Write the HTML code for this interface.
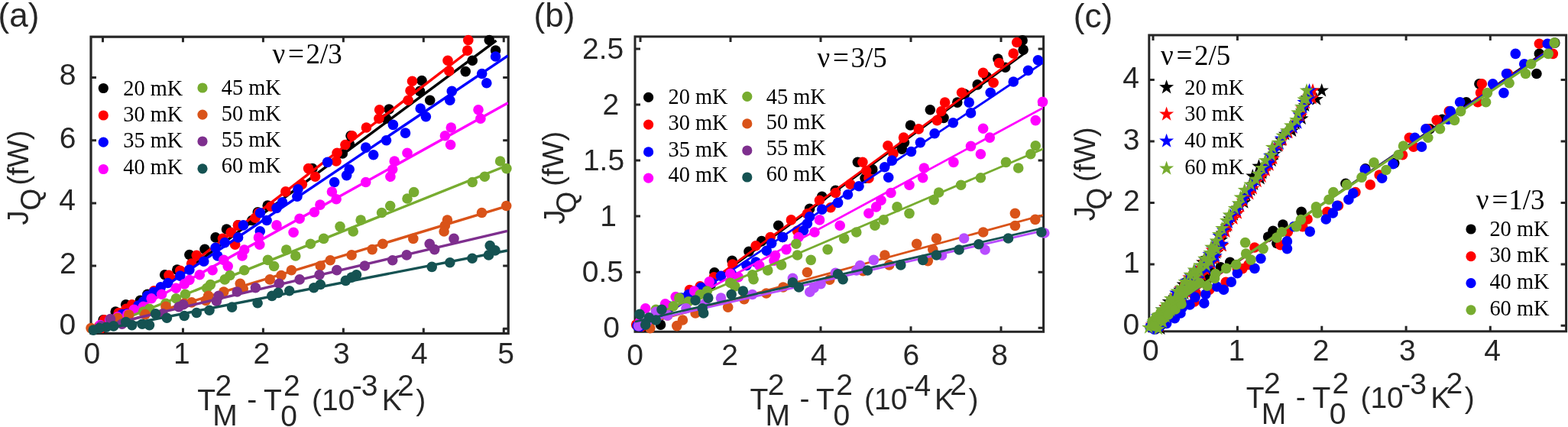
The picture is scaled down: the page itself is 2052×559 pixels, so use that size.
<!DOCTYPE html>
<html><head><meta charset="utf-8"><title>Figure</title>
<style>html,body{margin:0;padding:0;background:#fff;width:2052px;height:559px;overflow:hidden}svg{display:block}text{fill:#262626}text.lg{fill:#000}</style>
</head><body>
<svg width="2052" height="559" viewBox="0 0 2052 559"><defs>
<clipPath id="ca"><rect x="119" y="48" width="546" height="388"/></clipPath>
<clipPath id="cb"><rect x="831" y="48" width="534" height="386"/></clipPath>
<clipPath id="cc"><rect x="1504" y="46" width="545" height="388"/></clipPath>
</defs><rect width="2052" height="559" fill="#fff"/><rect x="119" y="48.2" width="546.2" height="388.3" fill="none" stroke="#262626" stroke-width="3.2"/>
<path d="M134.5,436.5v-7M134.5,48.2v7M239.45,436.5v-7M239.45,48.2v7M344.4,436.5v-7M344.4,48.2v7M449.35,436.5v-7M449.35,48.2v7M554.3,436.5v-7M554.3,48.2v7M659.25,436.5v-7M659.25,48.2v7M119,101.5h7M665.2,101.5h-7M119,183.7h7M665.2,183.7h-7M119,265.9h7M665.2,265.9h-7M119,348.1h7M665.2,348.1h-7M119,430.3h7M665.2,430.3h-7" stroke="#262626" stroke-width="3" fill="none"/>
<text x="109.4" y="476.0" style="font-family:'Liberation Sans',Arial,sans-serif;font-size:39px">0</text>
<text x="227.1" y="476.0" style="font-family:'Liberation Sans',Arial,sans-serif;font-size:39px">1</text>
<text x="331.6" y="476.0" style="font-family:'Liberation Sans',Arial,sans-serif;font-size:39px">2</text>
<text x="436.0" y="476.0" style="font-family:'Liberation Sans',Arial,sans-serif;font-size:39px">3</text>
<text x="537.9" y="476.0" style="font-family:'Liberation Sans',Arial,sans-serif;font-size:39px">4</text>
<text x="651.3" y="476.0" style="font-family:'Liberation Sans',Arial,sans-serif;font-size:39px">5</text>
<text x="77.7" y="110.5" style="font-family:'Liberation Sans',Arial,sans-serif;font-size:39px">8</text>
<text x="77.7" y="193.5" style="font-family:'Liberation Sans',Arial,sans-serif;font-size:39px">6</text>
<text x="77.2" y="275.2" style="font-family:'Liberation Sans',Arial,sans-serif;font-size:39px">4</text>
<text x="78.0" y="357.6" style="font-family:'Liberation Sans',Arial,sans-serif;font-size:39px">2</text>
<text x="77.5" y="438.0" style="font-family:'Liberation Sans',Arial,sans-serif;font-size:39px">0</text>
<rect x="831" y="47.9" width="534.5999999999999" height="386.40000000000003" fill="none" stroke="#262626" stroke-width="3"/>
<path d="M838,434.3v-7M838,47.9v7M956,434.3v-7M956,47.9v7M1074,434.3v-7M1074,47.9v7M1192,434.3v-7M1192,47.9v7M1310,434.3v-7M1310,47.9v7M831,63.9h7M1365.6,63.9h-7M831,137h7M1365.6,137h-7M831,210h7M1365.6,210h-7M831,283.1h7M1365.6,283.1h-7M831,356.2h7M1365.6,356.2h-7M831,429.3h7M1365.6,429.3h-7" stroke="#262626" stroke-width="3" fill="none"/>
<text x="820.2" y="478.0" style="font-family:'Liberation Sans',Arial,sans-serif;font-size:39px">0</text>
<text x="944.2" y="478.0" style="font-family:'Liberation Sans',Arial,sans-serif;font-size:39px">2</text>
<text x="1061.1" y="478.0" style="font-family:'Liberation Sans',Arial,sans-serif;font-size:39px">4</text>
<text x="1181.4" y="478.0" style="font-family:'Liberation Sans',Arial,sans-serif;font-size:39px">6</text>
<text x="1297.2" y="478.0" style="font-family:'Liberation Sans',Arial,sans-serif;font-size:39px">8</text>
<text x="762.0" y="77.2" style="font-family:'Liberation Sans',Arial,sans-serif;font-size:39px">2.5</text>
<text x="788.6" y="150.1" style="font-family:'Liberation Sans',Arial,sans-serif;font-size:39px">2</text>
<text x="762.9" y="223.4" style="font-family:'Liberation Sans',Arial,sans-serif;font-size:39px">1.5</text>
<text x="785.2" y="295.5" style="font-family:'Liberation Sans',Arial,sans-serif;font-size:39px">1</text>
<text x="761.8" y="369.4" style="font-family:'Liberation Sans',Arial,sans-serif;font-size:39px">0.5</text>
<text x="789.3" y="441.5" style="font-family:'Liberation Sans',Arial,sans-serif;font-size:39px">0</text>
<rect x="1503.8" y="46" width="545.8" height="387.8" fill="none" stroke="#262626" stroke-width="3"/>
<path d="M1509,433.8v-7M1509,46v7M1619.4,433.8v-7M1619.4,46v7M1729.8,433.8v-7M1729.8,46v7M1840.1,433.8v-7M1840.1,46v7M1950.3,433.8v-7M1950.3,46v7M1503.8,104.5h7M2049.6,104.5h-7M1503.8,185h7M2049.6,185h-7M1503.8,265.5h7M2049.6,265.5h-7M1503.8,346h7M2049.6,346h-7M1503.8,426.3h7M2049.6,426.3h-7" stroke="#262626" stroke-width="3" fill="none"/>
<text x="1495.0" y="472.2" style="font-family:'Liberation Sans',Arial,sans-serif;font-size:39px">0</text>
<text x="1607.6" y="472.2" style="font-family:'Liberation Sans',Arial,sans-serif;font-size:39px">1</text>
<text x="1717.7" y="472.2" style="font-family:'Liberation Sans',Arial,sans-serif;font-size:39px">2</text>
<text x="1830.9" y="472.2" style="font-family:'Liberation Sans',Arial,sans-serif;font-size:39px">3</text>
<text x="1942.3" y="472.2" style="font-family:'Liberation Sans',Arial,sans-serif;font-size:39px">4</text>
<text x="1469.3" y="115.3" style="font-family:'Liberation Sans',Arial,sans-serif;font-size:39px">4</text>
<text x="1469.8" y="195.8" style="font-family:'Liberation Sans',Arial,sans-serif;font-size:39px">3</text>
<text x="1470.1" y="276.3" style="font-family:'Liberation Sans',Arial,sans-serif;font-size:39px">2</text>
<text x="1470.0" y="357.0" style="font-family:'Liberation Sans',Arial,sans-serif;font-size:39px">1</text>
<text x="1469.6" y="437.5" style="font-family:'Liberation Sans',Arial,sans-serif;font-size:39px">0</text>
<text x="-2.4" y="34.5" style="font-family:'Liberation Sans',Arial,sans-serif;font-size:44px">(a)</text>
<text x="698.6" y="34.5" style="font-family:'Liberation Sans',Arial,sans-serif;font-size:44px">(b)</text>
<text x="1404.8" y="35.5" style="font-family:'Liberation Sans',Arial,sans-serif;font-size:44px">(c)</text>
<text transform="translate(37,294.5) rotate(-90)" style="font-family:'Liberation Sans',Arial,sans-serif;font-size:38px">J</text>
<text transform="translate(52.7,275.4) rotate(-90)" style="font-family:'Liberation Sans',Arial,sans-serif;font-size:37px">Q</text>
<text transform="translate(36.5,242.4) rotate(-90)" style="font-family:'Liberation Sans',Arial,sans-serif;font-size:38px">(fW)</text>
<text transform="translate(738.9,293.6) rotate(-90)" style="font-family:'Liberation Sans',Arial,sans-serif;font-size:38px">J</text>
<text transform="translate(753.8,279.5) rotate(-90)" style="font-family:'Liberation Sans',Arial,sans-serif;font-size:37px">Q</text>
<text transform="translate(737.3,243.7) rotate(-90)" style="font-family:'Liberation Sans',Arial,sans-serif;font-size:38px">(fW)</text>
<text transform="translate(1432.5,289.2) rotate(-90)" style="font-family:'Liberation Sans',Arial,sans-serif;font-size:38px">J</text>
<text transform="translate(1447.8,274.6) rotate(-90)" style="font-family:'Liberation Sans',Arial,sans-serif;font-size:37px">Q</text>
<text transform="translate(1432.5,238) rotate(-90)" style="font-family:'Liberation Sans',Arial,sans-serif;font-size:38px">(fW)</text>
<text x="258.3" y="536.9" style="font-family:'Liberation Sans',Arial,sans-serif;font-size:39px">T</text>
<text x="281.6" y="517.7" style="font-family:'Liberation Sans',Arial,sans-serif;font-size:39px">2</text>
<text x="278.3" y="557.3" style="font-family:'Liberation Sans',Arial,sans-serif;font-size:39px">M</text>
<text x="323.3" y="535.5" style="font-family:'Liberation Sans',Arial,sans-serif;font-size:39px">-</text>
<text x="344.9" y="536.9" style="font-family:'Liberation Sans',Arial,sans-serif;font-size:39px">T</text>
<text x="371.0" y="517.7" style="font-family:'Liberation Sans',Arial,sans-serif;font-size:39px">2</text>
<text x="367.3" y="557.7" style="font-family:'Liberation Sans',Arial,sans-serif;font-size:39px">0</text>
<text x="407.9" y="536.9" style="font-family:'Liberation Sans',Arial,sans-serif;font-size:39px">(10</text>
<text x="460.8" y="518.4" style="font-family:'Liberation Sans',Arial,sans-serif;font-size:39px">-</text>
<text x="472.7" y="518.4" style="font-family:'Liberation Sans',Arial,sans-serif;font-size:39px">3</text>
<text x="499.8" y="536.9" style="font-family:'Liberation Sans',Arial,sans-serif;font-size:39px">K</text>
<text x="520.0" y="517.7" style="font-family:'Liberation Sans',Arial,sans-serif;font-size:39px">2</text>
<text x="544.2" y="536.9" style="font-family:'Liberation Sans',Arial,sans-serif;font-size:39px">)</text>
<text x="981.5" y="536.4" style="font-family:'Liberation Sans',Arial,sans-serif;font-size:39px">T</text>
<text x="1004.8" y="517.2" style="font-family:'Liberation Sans',Arial,sans-serif;font-size:39px">2</text>
<text x="1001.5" y="556.8" style="font-family:'Liberation Sans',Arial,sans-serif;font-size:39px">M</text>
<text x="1046.5" y="535.0" style="font-family:'Liberation Sans',Arial,sans-serif;font-size:39px">-</text>
<text x="1068.1" y="536.4" style="font-family:'Liberation Sans',Arial,sans-serif;font-size:39px">T</text>
<text x="1094.2" y="517.2" style="font-family:'Liberation Sans',Arial,sans-serif;font-size:39px">2</text>
<text x="1090.5" y="557.2" style="font-family:'Liberation Sans',Arial,sans-serif;font-size:39px">0</text>
<text x="1131.1" y="536.4" style="font-family:'Liberation Sans',Arial,sans-serif;font-size:39px">(10</text>
<text x="1184.0" y="517.9" style="font-family:'Liberation Sans',Arial,sans-serif;font-size:39px">-</text>
<text x="1196.5" y="517.9" style="font-family:'Liberation Sans',Arial,sans-serif;font-size:39px">4</text>
<text x="1223.0" y="536.4" style="font-family:'Liberation Sans',Arial,sans-serif;font-size:39px">K</text>
<text x="1243.2" y="517.2" style="font-family:'Liberation Sans',Arial,sans-serif;font-size:39px">2</text>
<text x="1267.4" y="536.4" style="font-family:'Liberation Sans',Arial,sans-serif;font-size:39px">)</text>
<text x="1630.8" y="534.3" style="font-family:'Liberation Sans',Arial,sans-serif;font-size:39px">T</text>
<text x="1654.1" y="515.1" style="font-family:'Liberation Sans',Arial,sans-serif;font-size:39px">2</text>
<text x="1650.8" y="554.7" style="font-family:'Liberation Sans',Arial,sans-serif;font-size:39px">M</text>
<text x="1695.8" y="532.9" style="font-family:'Liberation Sans',Arial,sans-serif;font-size:39px">-</text>
<text x="1717.4" y="534.3" style="font-family:'Liberation Sans',Arial,sans-serif;font-size:39px">T</text>
<text x="1743.5" y="515.1" style="font-family:'Liberation Sans',Arial,sans-serif;font-size:39px">2</text>
<text x="1739.8" y="555.1" style="font-family:'Liberation Sans',Arial,sans-serif;font-size:39px">0</text>
<text x="1780.4" y="534.3" style="font-family:'Liberation Sans',Arial,sans-serif;font-size:39px">(10</text>
<text x="1833.3" y="515.8" style="font-family:'Liberation Sans',Arial,sans-serif;font-size:39px">-</text>
<text x="1845.2" y="515.8" style="font-family:'Liberation Sans',Arial,sans-serif;font-size:39px">3</text>
<text x="1872.3" y="534.3" style="font-family:'Liberation Sans',Arial,sans-serif;font-size:39px">K</text>
<text x="1892.5" y="515.1" style="font-family:'Liberation Sans',Arial,sans-serif;font-size:39px">2</text>
<text x="1916.7" y="534.3" style="font-family:'Liberation Sans',Arial,sans-serif;font-size:39px">)</text>
<text x="356.4" y="82.6" style="font-family:'Liberation Serif','Times New Roman',serif;font-size:37px" class="lg">ν</text>
<text x="377.1" y="82.6" style="font-family:'Liberation Serif','Times New Roman',serif;font-size:37px" class="lg">=</text>
<text x="400.6" y="82.6" style="font-family:'Liberation Serif','Times New Roman',serif;font-size:37px" class="lg">2/3</text>
<text x="1069.4" y="88.0" style="font-family:'Liberation Serif','Times New Roman',serif;font-size:37px" class="lg">ν</text>
<text x="1090.1" y="88.0" style="font-family:'Liberation Serif','Times New Roman',serif;font-size:37px" class="lg">=</text>
<text x="1113.4" y="88.0" style="font-family:'Liberation Serif','Times New Roman',serif;font-size:37px" class="lg">3/5</text>
<text x="1518.9" y="85.2" style="font-family:'Liberation Serif','Times New Roman',serif;font-size:37px" class="lg">ν</text>
<text x="1539.6" y="85.2" style="font-family:'Liberation Serif','Times New Roman',serif;font-size:37px" class="lg">=</text>
<text x="1563.1" y="85.2" style="font-family:'Liberation Serif','Times New Roman',serif;font-size:37px" class="lg">2/5</text>
<text x="1931.7" y="274.3" style="font-family:'Liberation Serif','Times New Roman',serif;font-size:37px" class="lg">ν</text>
<text x="1952.4" y="274.3" style="font-family:'Liberation Serif','Times New Roman',serif;font-size:37px" class="lg">=</text>
<text x="1974.2" y="274.3" style="font-family:'Liberation Serif','Times New Roman',serif;font-size:37px" class="lg">1/3</text>
<circle cx="135.3" cy="115.5" r="6.6" fill="#000000"/>
<text x="161.2" y="124.9" style="font-family:'Liberation Serif','Times New Roman',serif;font-size:28.4px" class="lg">20 mK</text>
<circle cx="135.3" cy="151" r="6.6" fill="#ff0000"/>
<text x="161.2" y="158.8" style="font-family:'Liberation Serif','Times New Roman',serif;font-size:28.4px" class="lg">30 mK</text>
<circle cx="135.3" cy="186.2" r="6.6" fill="#0000ff"/>
<text x="161.2" y="193.4" style="font-family:'Liberation Serif','Times New Roman',serif;font-size:28.4px" class="lg">35 mK</text>
<circle cx="135.3" cy="221.5" r="6.6" fill="#ff00ff"/>
<text x="161.2" y="227.5" style="font-family:'Liberation Serif','Times New Roman',serif;font-size:28.4px" class="lg">40 mK</text>
<circle cx="265" cy="115" r="6.6" fill="#77ac30"/>
<text x="289.8" y="124.2" style="font-family:'Liberation Serif','Times New Roman',serif;font-size:28.4px" class="lg">45 mK</text>
<circle cx="265" cy="150.2" r="6.6" fill="#d95319"/>
<text x="289.8" y="158.0" style="font-family:'Liberation Serif','Times New Roman',serif;font-size:28.4px" class="lg">50 mK</text>
<circle cx="265" cy="185" r="6.6" fill="#7e2f8e"/>
<text x="289.8" y="191.6" style="font-family:'Liberation Serif','Times New Roman',serif;font-size:28.4px" class="lg">55 mK</text>
<circle cx="265" cy="220.8" r="6.6" fill="#155252"/>
<text x="289.8" y="225.6" style="font-family:'Liberation Serif','Times New Roman',serif;font-size:28.4px" class="lg">60 mK</text>
<circle cx="848.6" cy="127.4" r="6.6" fill="#000000"/>
<text x="874.5" y="136.1" style="font-family:'Liberation Serif','Times New Roman',serif;font-size:28.4px" class="lg">20 mK</text>
<circle cx="848.6" cy="163.1" r="6.6" fill="#ff0000"/>
<text x="874.5" y="169.9" style="font-family:'Liberation Serif','Times New Roman',serif;font-size:28.4px" class="lg">30 mK</text>
<circle cx="848.6" cy="198.9" r="6.6" fill="#0000ff"/>
<text x="874.5" y="205.0" style="font-family:'Liberation Serif','Times New Roman',serif;font-size:28.4px" class="lg">35 mK</text>
<circle cx="848.6" cy="233.2" r="6.6" fill="#ff00ff"/>
<text x="874.5" y="238.0" style="font-family:'Liberation Serif','Times New Roman',serif;font-size:28.4px" class="lg">40 mK</text>
<circle cx="977.8" cy="126.4" r="6.6" fill="#77ac30"/>
<text x="1002.8" y="136.1" style="font-family:'Liberation Serif','Times New Roman',serif;font-size:28.4px" class="lg">45 mK</text>
<circle cx="977.8" cy="161.9" r="6.6" fill="#d95319"/>
<text x="1002.8" y="169.2" style="font-family:'Liberation Serif','Times New Roman',serif;font-size:28.4px" class="lg">50 mK</text>
<circle cx="977.8" cy="197" r="6.6" fill="#7e2f8e"/>
<text x="1002.8" y="203.0" style="font-family:'Liberation Serif','Times New Roman',serif;font-size:28.4px" class="lg">55 mK</text>
<circle cx="977.8" cy="232" r="6.6" fill="#155252"/>
<text x="1002.8" y="236.8" style="font-family:'Liberation Serif','Times New Roman',serif;font-size:28.4px" class="lg">60 mK</text>
<circle cx="1925" cy="300" r="6.6" fill="#000000"/>
<text x="1949.4" y="309.2" style="font-family:'Liberation Serif','Times New Roman',serif;font-size:28.4px" class="lg">20 mK</text>
<circle cx="1925" cy="335.7" r="6.6" fill="#ff0000"/>
<text x="1949.4" y="343.0" style="font-family:'Liberation Serif','Times New Roman',serif;font-size:28.4px" class="lg">30 mK</text>
<circle cx="1925" cy="370.7" r="6.6" fill="#0000ff"/>
<text x="1949.4" y="378.0" style="font-family:'Liberation Serif','Times New Roman',serif;font-size:28.4px" class="lg">40 mK</text>
<circle cx="1925" cy="405.8" r="6.6" fill="#77ac30"/>
<text x="1949.4" y="412.5" style="font-family:'Liberation Serif','Times New Roman',serif;font-size:28.4px" class="lg">60 mK</text>
<polygon points="1526.6,104.3 1529.0,111.1 1536.1,111.2 1530.4,115.5 1532.5,122.4 1526.6,118.3 1520.7,122.4 1522.8,115.5 1517.1,111.2 1524.2,111.1" fill="#000000"/>
<text x="1550.3" y="123.7" style="font-family:'Liberation Serif','Times New Roman',serif;font-size:28.4px" class="lg">20 mK</text>
<polygon points="1526.6,139.6 1529.0,146.4 1536.1,146.5 1530.4,150.8 1532.5,157.7 1526.6,153.6 1520.7,157.7 1522.8,150.8 1517.1,146.5 1524.2,146.4" fill="#ff0000"/>
<text x="1550.3" y="158.0" style="font-family:'Liberation Serif','Times New Roman',serif;font-size:28.4px" class="lg">30 mK</text>
<polygon points="1526.6,174.7 1529.0,181.5 1536.1,181.6 1530.4,185.9 1532.5,192.8 1526.6,188.7 1520.7,192.8 1522.8,185.9 1517.1,181.6 1524.2,181.5" fill="#0000ff"/>
<text x="1550.3" y="193.0" style="font-family:'Liberation Serif','Times New Roman',serif;font-size:28.4px" class="lg">40 mK</text>
<polygon points="1526.6,210.6 1529.0,217.4 1536.1,217.5 1530.4,221.8 1532.5,228.7 1526.6,224.6 1520.7,228.7 1522.8,221.8 1517.1,217.5 1524.2,217.4" fill="#77ac30"/>
<text x="1550.3" y="228.0" style="font-family:'Liberation Serif','Times New Roman',serif;font-size:28.4px" class="lg">60 mK</text>
<g fill="#000000"><circle cx="640.3" cy="52.5" r="6.8"/><circle cx="648.6" cy="66.1" r="6.8"/><circle cx="618.2" cy="79.3" r="6.8"/><circle cx="609.2" cy="93.6" r="6.8"/><circle cx="552.0" cy="105.5" r="6.8"/><circle cx="549.5" cy="119.4" r="6.8"/><circle cx="562.7" cy="131.2" r="6.8"/><circle cx="509.1" cy="143.0" r="6.8"/><circle cx="505.5" cy="155.2" r="6.8"/><circle cx="459.0" cy="177.7" r="6.8"/><circle cx="457.2" cy="188.4" r="6.8"/><circle cx="448.3" cy="201.0" r="6.8"/><circle cx="408.9" cy="220.6" r="6.8"/><circle cx="350.2" cy="269.1" r="6.8"/><circle cx="337.3" cy="277.7" r="6.8"/><circle cx="329.8" cy="288.5" r="6.8"/><circle cx="296.5" cy="300.0" r="6.8"/><circle cx="268.0" cy="326.2" r="6.8"/><circle cx="247.9" cy="333.5" r="6.8"/><circle cx="215.7" cy="359.8" r="6.8"/><circle cx="231.8" cy="353.1" r="6.8"/><circle cx="164.7" cy="398.7" r="6.8"/><circle cx="151.2" cy="408.1" r="6.8"/><circle cx="135.1" cy="418.9" r="6.8"/><circle cx="192.9" cy="385.3" r="6.8"/><circle cx="183.5" cy="393.4" r="6.8"/><circle cx="282.1" cy="310.9" r="6.8"/><circle cx="311.6" cy="294.8" r="6.8"/></g>
<line x1="119" y1="446.7303750245435" x2="649.5" y2="53.1" stroke="#000000" stroke-width="3.4" clip-path="url(#ca)"/>
<g fill="#ff0000"><circle cx="612.8" cy="52.5" r="6.8"/><circle cx="611.7" cy="66.1" r="6.8"/><circle cx="586.0" cy="79.3" r="6.8"/><circle cx="587.8" cy="92.9" r="6.8"/><circle cx="539.5" cy="106.2" r="6.8"/><circle cx="537.0" cy="118.7" r="6.8"/><circle cx="534.1" cy="131.2" r="6.8"/><circle cx="496.6" cy="143.7" r="6.8"/><circle cx="495.9" cy="155.2" r="6.8"/><circle cx="479.4" cy="167.0" r="6.8"/><circle cx="460.8" cy="177.7" r="6.8"/><circle cx="451.9" cy="189.5" r="6.8"/><circle cx="441.1" cy="200.2" r="6.8"/><circle cx="440.0" cy="211.0" r="6.8"/><circle cx="403.6" cy="220.6" r="6.8"/><circle cx="412.5" cy="231.3" r="6.8"/><circle cx="395.3" cy="241.2" r="6.8"/><circle cx="373.8" cy="250.9" r="6.8"/><circle cx="354.5" cy="270.2" r="6.8"/><circle cx="338.4" cy="278.8" r="6.8"/><circle cx="334.1" cy="285.2" r="6.8"/><circle cx="311.5" cy="294.9" r="6.8"/><circle cx="257.3" cy="334.3" r="6.8"/><circle cx="250.6" cy="345.0" r="6.8"/><circle cx="221.0" cy="360.3" r="6.8"/><circle cx="235.8" cy="354.4" r="6.8"/><circle cx="172.7" cy="398.7" r="6.8"/><circle cx="155.3" cy="409.5" r="6.8"/><circle cx="129.8" cy="426.9" r="6.8"/><circle cx="291.5" cy="312.2" r="6.8"/><circle cx="302.2" cy="304.2" r="6.8"/><circle cx="307.6" cy="320.3" r="6.8"/><circle cx="201.5" cy="380.9" r="6.8"/><circle cx="136.5" cy="418.7" r="6.8"/><circle cx="165.1" cy="404.4" r="6.8"/></g>
<line x1="119" y1="446.31554011370815" x2="611.9" y2="68" stroke="#ff0000" stroke-width="3.4" clip-path="url(#ca)"/>
<g fill="#0000ff"><circle cx="648.6" cy="74.0" r="6.8"/><circle cx="630.7" cy="96.5" r="6.8"/><circle cx="636.8" cy="108.7" r="6.8"/><circle cx="591.3" cy="119.4" r="6.8"/><circle cx="588.8" cy="131.2" r="6.8"/><circle cx="550.2" cy="142.0" r="6.8"/><circle cx="557.4" cy="152.7" r="6.8"/><circle cx="514.4" cy="163.4" r="6.8"/><circle cx="530.5" cy="174.1" r="6.8"/><circle cx="505.5" cy="183.8" r="6.8"/><circle cx="478.7" cy="193.1" r="6.8"/><circle cx="488.7" cy="202.7" r="6.8"/><circle cx="428.6" cy="212.4" r="6.8"/><circle cx="457.2" cy="221.7" r="6.8"/><circle cx="453.6" cy="229.6" r="6.8"/><circle cx="437.6" cy="238.5" r="6.8"/><circle cx="389.9" cy="247.7" r="6.8"/><circle cx="388.9" cy="257.3" r="6.8"/><circle cx="369.5" cy="264.8" r="6.8"/><circle cx="362.0" cy="272.4" r="6.8"/><circle cx="340.5" cy="278.8" r="6.8"/><circle cx="349.1" cy="288.5" r="6.8"/><circle cx="318.4" cy="294.9" r="6.8"/><circle cx="266.7" cy="342.3" r="6.8"/><circle cx="247.9" cy="353.1" r="6.8"/><circle cx="235.8" cy="361.1" r="6.8"/><circle cx="219.7" cy="370.5" r="6.8"/><circle cx="210.3" cy="375.9" r="6.8"/><circle cx="200.9" cy="382.6" r="6.8"/><circle cx="187.5" cy="394.7" r="6.8"/><circle cx="180.8" cy="400.1" r="6.8"/><circle cx="166.0" cy="410.8" r="6.8"/><circle cx="147.2" cy="421.5" r="6.8"/><circle cx="340.3" cy="302.8" r="6.8"/><circle cx="311.6" cy="310.9" r="6.8"/><circle cx="294.2" cy="317.6" r="6.8"/><circle cx="282.1" cy="324.3" r="6.8"/><circle cx="284.8" cy="335.0" r="6.8"/><circle cx="192.9" cy="387.3" r="6.8"/><circle cx="159.7" cy="411.6" r="6.8"/></g>
<line x1="119" y1="439.85714285714283" x2="664.7" y2="73" stroke="#0000ff" stroke-width="3.4" clip-path="url(#ca)"/>
<g fill="#ff00ff"><circle cx="626.0" cy="143.7" r="6.8"/><circle cx="628.9" cy="155.2" r="6.8"/><circle cx="590.3" cy="167.0" r="6.8"/><circle cx="582.4" cy="177.7" r="6.8"/><circle cx="589.6" cy="189.5" r="6.8"/><circle cx="533.0" cy="200.2" r="6.8"/><circle cx="516.2" cy="211.0" r="6.8"/><circle cx="513.7" cy="221.7" r="6.8"/><circle cx="510.9" cy="231.3" r="6.8"/><circle cx="478.7" cy="238.5" r="6.8"/><circle cx="418.9" cy="268.1" r="6.8"/><circle cx="411.4" cy="277.7" r="6.8"/><circle cx="392.1" cy="286.3" r="6.8"/><circle cx="362.0" cy="294.9" r="6.8"/><circle cx="384.1" cy="304.2" r="6.8"/><circle cx="338.5" cy="310.9" r="6.8"/><circle cx="339.8" cy="320.3" r="6.8"/><circle cx="319.7" cy="327.0" r="6.8"/><circle cx="317.0" cy="335.0" r="6.8"/><circle cx="292.8" cy="340.4" r="6.8"/><circle cx="298.2" cy="348.5" r="6.8"/><circle cx="278.1" cy="353.8" r="6.8"/><circle cx="261.3" cy="359.8" r="6.8"/><circle cx="247.9" cy="366.5" r="6.8"/><circle cx="241.2" cy="371.9" r="6.8"/><circle cx="230.4" cy="377.2" r="6.8"/><circle cx="211.6" cy="385.3" r="6.8"/><circle cx="198.2" cy="390.7" r="6.8"/><circle cx="187.5" cy="401.4" r="6.8"/><circle cx="175.4" cy="405.4" r="6.8"/><circle cx="153.9" cy="414.8" r="6.8"/><circle cx="131.1" cy="425.6" r="6.8"/><circle cx="434.4" cy="251.0" r="6.8"/><circle cx="440.1" cy="260.7" r="6.8"/><circle cx="166.9" cy="411.6" r="6.8"/><circle cx="143.6" cy="418.7" r="6.8"/></g>
<line x1="119" y1="437.6599213041034" x2="664.7" y2="134.8" stroke="#ff00ff" stroke-width="3.4" clip-path="url(#ca)"/>
<g fill="#77ac30"><circle cx="654.6" cy="211.0" r="6.8"/><circle cx="662.9" cy="220.6" r="6.8"/><circle cx="634.3" cy="231.3" r="6.8"/><circle cx="618.2" cy="238.5" r="6.8"/><circle cx="541.6" cy="251.5" r="6.8"/><circle cx="533.0" cy="260.0" r="6.8"/><circle cx="510.7" cy="269.5" r="6.8"/><circle cx="499.6" cy="278.5" r="6.8"/><circle cx="472.1" cy="288.0" r="6.8"/><circle cx="445.0" cy="296.6" r="6.8"/><circle cx="462.2" cy="303.0" r="6.8"/><circle cx="423.6" cy="312.4" r="6.8"/><circle cx="406.4" cy="319.3" r="6.8"/><circle cx="374.7" cy="327.0" r="6.8"/><circle cx="386.8" cy="335.0" r="6.8"/><circle cx="350.5" cy="340.4" r="6.8"/><circle cx="358.6" cy="348.5" r="6.8"/><circle cx="319.7" cy="353.8" r="6.8"/><circle cx="300.9" cy="360.5" r="6.8"/><circle cx="294.2" cy="365.9" r="6.8"/><circle cx="275.4" cy="372.6" r="6.8"/><circle cx="270.7" cy="377.2" r="6.8"/><circle cx="242.5" cy="385.3" r="6.8"/><circle cx="230.4" cy="390.7" r="6.8"/><circle cx="217.0" cy="397.4" r="6.8"/><circle cx="187.5" cy="408.1" r="6.8"/><circle cx="195.5" cy="404.4" r="6.8"/></g>
<line x1="119" y1="434.928076418805" x2="662.7" y2="217" stroke="#77ac30" stroke-width="3.4" clip-path="url(#ca)"/>
<g fill="#d95319"><circle cx="662.7" cy="269.5" r="6.8"/><circle cx="630.5" cy="278.5" r="6.8"/><circle cx="585.4" cy="288.0" r="6.8"/><circle cx="582.4" cy="295.3" r="6.8"/><circle cx="581.1" cy="303.0" r="6.8"/><circle cx="540.8" cy="312.4" r="6.8"/><circle cx="500.9" cy="319.3" r="6.8"/><circle cx="487.1" cy="326.6" r="6.8"/><circle cx="460.1" cy="333.9" r="6.8"/><circle cx="432.2" cy="340.8" r="6.8"/><circle cx="419.3" cy="348.0" r="6.8"/><circle cx="381.4" cy="353.8" r="6.8"/><circle cx="368.0" cy="360.5" r="6.8"/><circle cx="353.2" cy="365.9" r="6.8"/><circle cx="314.3" cy="371.3" r="6.8"/><circle cx="318.3" cy="378.0" r="6.8"/><circle cx="292.8" cy="382.0" r="6.8"/><circle cx="272.7" cy="387.4" r="6.8"/><circle cx="269.4" cy="393.4" r="6.8"/><circle cx="241.2" cy="397.4" r="6.8"/><circle cx="217.0" cy="401.4" r="6.8"/><circle cx="168.7" cy="412.1" r="6.8"/><circle cx="153.9" cy="416.2" r="6.8"/><circle cx="119.0" cy="429.6" r="6.8"/><circle cx="250.8" cy="395.9" r="6.8"/><circle cx="190.1" cy="411.6" r="6.8"/></g>
<line x1="119" y1="434.5" x2="664" y2="269.7" stroke="#d95319" stroke-width="3.4" clip-path="url(#ca)"/>
<g fill="#7e2f8e"><circle cx="594.0" cy="312.4" r="6.8"/><circle cx="562.2" cy="319.3" r="6.8"/><circle cx="568.7" cy="326.6" r="6.8"/><circle cx="532.2" cy="333.9" r="6.8"/><circle cx="513.7" cy="340.8" r="6.8"/><circle cx="477.3" cy="348.0" r="6.8"/><circle cx="440.8" cy="353.6" r="6.8"/><circle cx="418.0" cy="359.7" r="6.8"/><circle cx="392.1" cy="365.9" r="6.8"/><circle cx="365.3" cy="371.3" r="6.8"/><circle cx="334.4" cy="376.6" r="6.8"/><circle cx="310.3" cy="382.0" r="6.8"/><circle cx="286.1" cy="387.4" r="6.8"/><circle cx="283.4" cy="394.1" r="6.8"/><circle cx="239.8" cy="398.7" r="6.8"/><circle cx="213.0" cy="410.8" r="6.8"/><circle cx="144.5" cy="417.5" r="6.8"/><circle cx="132.4" cy="426.9" r="6.8"/><circle cx="234.0" cy="401.7" r="6.8"/><circle cx="159.7" cy="424.1" r="6.8"/></g>
<line x1="119" y1="430.5" x2="664" y2="302.4" stroke="#7e2f8e" stroke-width="3.4" clip-path="url(#ca)"/>
<g fill="#155252"><circle cx="641.2" cy="321.5" r="6.8"/><circle cx="648.0" cy="327.9" r="6.8"/><circle cx="639.5" cy="333.9" r="6.8"/><circle cx="618.0" cy="338.2" r="6.8"/><circle cx="588.8" cy="343.8" r="6.8"/><circle cx="565.2" cy="349.4" r="6.8"/><circle cx="466.5" cy="359.7" r="6.8"/><circle cx="460.1" cy="363.1" r="6.8"/><circle cx="452.4" cy="367.4" r="6.8"/><circle cx="419.3" cy="372.5" r="6.8"/><circle cx="410.7" cy="376.8" r="6.8"/><circle cx="378.7" cy="380.7" r="6.8"/><circle cx="364.0" cy="383.4" r="6.8"/><circle cx="355.9" cy="387.4" r="6.8"/><circle cx="337.1" cy="396.8" r="6.8"/><circle cx="303.6" cy="402.1" r="6.8"/><circle cx="274.0" cy="406.2" r="6.8"/><circle cx="257.3" cy="409.5" r="6.8"/><circle cx="241.2" cy="413.5" r="6.8"/><circle cx="218.4" cy="416.2" r="6.8"/><circle cx="203.6" cy="410.8" r="6.8"/><circle cx="195.5" cy="425.6" r="6.8"/><circle cx="186.1" cy="424.2" r="6.8"/><circle cx="172.7" cy="425.6" r="6.8"/><circle cx="164.7" cy="421.5" r="6.8"/><circle cx="148.6" cy="426.9" r="6.8"/><circle cx="139.2" cy="428.3" r="6.8"/><circle cx="129.8" cy="429.6" r="6.8"/><circle cx="122.2" cy="432.1" r="6.8"/></g>
<line x1="119" y1="434.1" x2="664" y2="328" stroke="#155252" stroke-width="3.4" clip-path="url(#ca)"/>
<g fill="#000000"><circle cx="1338.1" cy="52.9" r="6.8"/><circle cx="1339.1" cy="65.1" r="6.8"/><circle cx="1305.9" cy="77.0" r="6.8"/><circle cx="1315.6" cy="88.3" r="6.8"/><circle cx="1291.4" cy="100.6" r="6.8"/><circle cx="1279.2" cy="110.9" r="6.8"/><circle cx="1262.4" cy="123.1" r="6.8"/><circle cx="1252.8" cy="134.1" r="6.8"/><circle cx="1217.3" cy="143.7" r="6.8"/><circle cx="1235.0" cy="154.4" r="6.8"/><circle cx="1191.5" cy="164.0" r="6.8"/><circle cx="1183.5" cy="186.6" r="6.8"/><circle cx="1180.3" cy="195.3" r="6.8"/><circle cx="1122.4" cy="212.2" r="6.8"/><circle cx="1141.8" cy="221.9" r="6.8"/><circle cx="1132.1" cy="233.2" r="6.8"/><circle cx="1093.4" cy="249.3" r="6.8"/><circle cx="1075.7" cy="257.3" r="6.8"/><circle cx="1059.6" cy="273.4" r="6.8"/><circle cx="1018.7" cy="295.3" r="6.8"/><circle cx="1024.2" cy="310.5" r="6.8"/><circle cx="996.7" cy="315.6" r="6.8"/><circle cx="980.0" cy="329.3" r="6.8"/><circle cx="958.1" cy="341.4" r="6.8"/><circle cx="935.0" cy="356.7" r="6.8"/><circle cx="929.9" cy="373.4" r="6.8"/><circle cx="864.5" cy="425.1" r="6.8"/></g>
<line x1="831" y1="442.1435552840562" x2="1340.1" y2="70.4" stroke="#000000" stroke-width="2.8" clip-path="url(#cb)"/>
<g fill="#ff0000"><circle cx="1330.7" cy="55.5" r="6.8"/><circle cx="1326.2" cy="70.0" r="6.8"/><circle cx="1307.5" cy="82.5" r="6.8"/><circle cx="1286.6" cy="95.4" r="6.8"/><circle cx="1300.1" cy="108.3" r="6.8"/><circle cx="1258.6" cy="121.2" r="6.8"/><circle cx="1236.6" cy="134.1" r="6.8"/><circle cx="1231.8" cy="145.7" r="6.8"/><circle cx="1226.3" cy="157.6" r="6.8"/><circle cx="1202.2" cy="168.9" r="6.8"/><circle cx="1182.5" cy="180.1" r="6.8"/><circle cx="1161.9" cy="190.8" r="6.8"/><circle cx="1169.0" cy="201.1" r="6.8"/><circle cx="1128.9" cy="212.2" r="6.8"/><circle cx="1133.7" cy="223.5" r="6.8"/><circle cx="1136.9" cy="233.2" r="6.8"/><circle cx="1112.8" cy="241.2" r="6.8"/><circle cx="1093.4" cy="252.5" r="6.8"/><circle cx="1072.5" cy="262.2" r="6.8"/><circle cx="1087.0" cy="271.8" r="6.8"/><circle cx="1056.4" cy="279.9" r="6.8"/><circle cx="1035.4" cy="287.9" r="6.8"/><circle cx="1043.5" cy="302.4" r="6.8"/><circle cx="1008.1" cy="310.5" r="6.8"/><circle cx="989.1" cy="321.7" r="6.8"/><circle cx="958.7" cy="346.0" r="6.8"/><circle cx="934.4" cy="362.7" r="6.8"/><circle cx="916.2" cy="374.9" r="6.8"/><circle cx="902.5" cy="379.5" r="6.8"/><circle cx="832.6" cy="425.1" r="6.8"/></g>
<line x1="831" y1="440.474447884417" x2="1331.2" y2="74.9" stroke="#ff0000" stroke-width="2.8" clip-path="url(#cb)"/>
<g fill="#0000ff"><circle cx="1358.4" cy="78.7" r="6.8"/><circle cx="1345.5" cy="92.2" r="6.8"/><circle cx="1326.2" cy="107.0" r="6.8"/><circle cx="1296.2" cy="121.2" r="6.8"/><circle cx="1268.2" cy="134.1" r="6.8"/><circle cx="1270.5" cy="147.9" r="6.8"/><circle cx="1247.3" cy="160.8" r="6.8"/><circle cx="1223.1" cy="174.7" r="6.8"/><circle cx="1204.4" cy="186.6" r="6.8"/><circle cx="1192.5" cy="198.5" r="6.8"/><circle cx="1167.4" cy="210.1" r="6.8"/><circle cx="1157.7" cy="218.8" r="6.8"/><circle cx="1162.7" cy="232.2" r="6.8"/><circle cx="1124.0" cy="243.8" r="6.8"/><circle cx="1109.5" cy="254.7" r="6.8"/><circle cx="1096.6" cy="265.4" r="6.8"/><circle cx="1075.7" cy="274.1" r="6.8"/><circle cx="1059.6" cy="283.7" r="6.8"/><circle cx="1056.4" cy="292.8" r="6.8"/><circle cx="1051.5" cy="301.8" r="6.8"/><circle cx="1024.2" cy="310.5" r="6.8"/><circle cx="1009.7" cy="318.5" r="6.8"/><circle cx="1003.2" cy="328.2" r="6.8"/><circle cx="989.1" cy="343.0" r="6.8"/><circle cx="977.0" cy="347.5" r="6.8"/><circle cx="957.2" cy="358.2" r="6.8"/><circle cx="943.5" cy="361.2" r="6.8"/><circle cx="931.4" cy="370.3" r="6.8"/><circle cx="917.7" cy="376.4" r="6.8"/><circle cx="901.0" cy="385.5" r="6.8"/><circle cx="891.8" cy="390.1" r="6.8"/><circle cx="875.1" cy="400.7" r="6.8"/><circle cx="864.5" cy="412.9" r="6.8"/><circle cx="834.1" cy="426.6" r="6.8"/></g>
<line x1="831" y1="438.33871587850825" x2="1365.2" y2="82" stroke="#0000ff" stroke-width="2.8" clip-path="url(#cb)"/>
<g fill="#ff00ff"><circle cx="1364.5" cy="133.4" r="6.8"/><circle cx="1355.2" cy="157.6" r="6.8"/><circle cx="1286.6" cy="168.2" r="6.8"/><circle cx="1295.3" cy="180.1" r="6.8"/><circle cx="1270.5" cy="191.4" r="6.8"/><circle cx="1283.4" cy="201.7" r="6.8"/><circle cx="1247.9" cy="212.4" r="6.8"/><circle cx="1209.3" cy="220.0" r="6.8"/><circle cx="1207.7" cy="232.7" r="6.8"/><circle cx="1190.0" cy="242.3" r="6.8"/><circle cx="1165.9" cy="252.5" r="6.8"/><circle cx="1153.0" cy="262.2" r="6.8"/><circle cx="1146.6" cy="270.9" r="6.8"/><circle cx="1136.9" cy="279.2" r="6.8"/><circle cx="1072.5" cy="287.9" r="6.8"/><circle cx="1099.2" cy="295.3" r="6.8"/><circle cx="1066.0" cy="304.0" r="6.8"/><circle cx="1045.1" cy="310.5" r="6.8"/><circle cx="1029.0" cy="326.6" r="6.8"/><circle cx="1014.5" cy="334.6" r="6.8"/><circle cx="1012.9" cy="341.1" r="6.8"/><circle cx="993.7" cy="347.5" r="6.8"/><circle cx="966.3" cy="362.7" r="6.8"/><circle cx="955.7" cy="358.2" r="6.8"/><circle cx="928.3" cy="368.8" r="6.8"/><circle cx="908.6" cy="381.0" r="6.8"/><circle cx="884.2" cy="388.6" r="6.8"/><circle cx="870.6" cy="397.7" r="6.8"/><circle cx="844.7" cy="403.8" r="6.8"/><circle cx="837.1" cy="422.0" r="6.8"/></g>
<line x1="831" y1="430.08206572769956" x2="1365.5" y2="140.9" stroke="#ff00ff" stroke-width="2.8" clip-path="url(#cb)"/>
<g fill="#77ac30"><circle cx="1355.2" cy="190.8" r="6.8"/><circle cx="1348.8" cy="201.7" r="6.8"/><circle cx="1316.5" cy="212.4" r="6.8"/><circle cx="1332.7" cy="220.0" r="6.8"/><circle cx="1283.4" cy="232.7" r="6.8"/><circle cx="1257.6" cy="242.3" r="6.8"/><circle cx="1228.6" cy="252.0" r="6.8"/><circle cx="1222.2" cy="261.7" r="6.8"/><circle cx="1190.0" cy="279.4" r="6.8"/><circle cx="1174.0" cy="270.9" r="6.8"/><circle cx="1156.3" cy="287.9" r="6.8"/><circle cx="1145.0" cy="295.3" r="6.8"/><circle cx="1120.8" cy="304.0" r="6.8"/><circle cx="1104.7" cy="312.1" r="6.8"/><circle cx="1083.1" cy="326.6" r="6.8"/><circle cx="1061.2" cy="340.4" r="6.8"/><circle cx="1043.5" cy="334.0" r="6.8"/><circle cx="1041.9" cy="319.2" r="6.8"/><circle cx="1022.6" cy="346.9" r="6.8"/><circle cx="1004.8" cy="354.0" r="6.8"/><circle cx="984.6" cy="359.7" r="6.8"/><circle cx="986.1" cy="365.8" r="6.8"/><circle cx="955.7" cy="370.3" r="6.8"/><circle cx="961.8" cy="374.9" r="6.8"/><circle cx="925.3" cy="381.0" r="6.8"/><circle cx="916.2" cy="385.5" r="6.8"/><circle cx="901.0" cy="394.7" r="6.8"/><circle cx="888.8" cy="390.1" r="6.8"/><circle cx="881.2" cy="400.7" r="6.8"/><circle cx="858.4" cy="405.3" r="6.8"/></g>
<line x1="831" y1="423.02717900656046" x2="1365.5" y2="194.7" stroke="#77ac30" stroke-width="2.8" clip-path="url(#cb)"/>
<g fill="#d95319"><circle cx="1328.4" cy="279.4" r="6.8"/><circle cx="1354.8" cy="287.4" r="6.8"/><circle cx="1328.4" cy="295.5" r="6.8"/><circle cx="1225.5" cy="312.1" r="6.8"/><circle cx="1199.7" cy="319.2" r="6.8"/><circle cx="1157.9" cy="334.0" r="6.8"/><circle cx="1163.7" cy="346.9" r="6.8"/><circle cx="1056.4" cy="356.5" r="6.8"/><circle cx="1002.8" cy="384.0" r="6.8"/><circle cx="973.9" cy="391.6" r="6.8"/><circle cx="952.7" cy="402.3" r="6.8"/><circle cx="910.1" cy="409.9" r="6.8"/><circle cx="893.4" cy="419.0" r="6.8"/><circle cx="885.8" cy="426.6" r="6.8"/><circle cx="873.6" cy="412.9" r="6.8"/><circle cx="850.8" cy="429.6" r="6.8"/><circle cx="1286.7" cy="304.0" r="6.8"/><circle cx="1220.8" cy="326.6" r="6.8"/><circle cx="1214.3" cy="341.6" r="6.8"/><circle cx="1129.5" cy="354.6" r="6.8"/><circle cx="1085.7" cy="366.2" r="6.8"/><circle cx="1024.9" cy="376.0" r="6.8"/></g>
<line x1="831" y1="427.2729831144465" x2="1365" y2="281.5" stroke="#d95319" stroke-width="2.8" clip-path="url(#cb)"/>
<g fill="#b84cff"><circle cx="1143.4" cy="340.4" r="6.8"/><circle cx="1125.6" cy="347.5" r="6.8"/><circle cx="1120.8" cy="354.0" r="6.8"/><circle cx="1093.4" cy="357.2" r="6.8"/><circle cx="984.6" cy="385.5" r="6.8"/><circle cx="943.5" cy="390.1" r="6.8"/><circle cx="922.3" cy="397.7" r="6.8"/><circle cx="897.9" cy="403.8" r="6.8"/><circle cx="873.6" cy="412.9" r="6.8"/><circle cx="858.4" cy="408.3" r="6.8"/><circle cx="835.6" cy="426.6" r="6.8"/><circle cx="846.2" cy="422.0" r="6.8"/><circle cx="1261.6" cy="312.0" r="6.8"/><circle cx="1289.1" cy="327.0" r="6.8"/><circle cx="1232.6" cy="334.1" r="6.8"/><circle cx="1366.8" cy="305.0" r="6.8"/><circle cx="1074.1" cy="371.6" r="6.8"/><circle cx="1065.1" cy="376.9" r="6.8"/><circle cx="1059.8" cy="382.3" r="6.8"/><circle cx="1037.4" cy="364.4" r="6.8"/></g>
<line x1="831" y1="424.22889305816136" x2="1365" y2="302" stroke="#b84cff" stroke-width="2.8" clip-path="url(#cb)"/>
<g fill="#155252"><circle cx="1225.5" cy="334.0" r="6.8"/><circle cx="1207.8" cy="340.4" r="6.8"/><circle cx="1178.8" cy="346.9" r="6.8"/><circle cx="1135.3" cy="354.0" r="6.8"/><circle cx="1096.6" cy="358.8" r="6.8"/><circle cx="972.4" cy="381.0" r="6.8"/><circle cx="957.2" cy="385.5" r="6.8"/><circle cx="926.8" cy="390.1" r="6.8"/><circle cx="910.1" cy="393.1" r="6.8"/><circle cx="919.2" cy="403.8" r="6.8"/><circle cx="920.7" cy="409.9" r="6.8"/><circle cx="866.0" cy="405.3" r="6.8"/><circle cx="858.4" cy="419.0" r="6.8"/><circle cx="849.3" cy="415.9" r="6.8"/><circle cx="844.7" cy="425.1" r="6.8"/><circle cx="837.1" cy="411.4" r="6.8"/><circle cx="1362.9" cy="304.0" r="6.8"/><circle cx="1319.5" cy="312.0" r="6.8"/><circle cx="1280.9" cy="319.7" r="6.8"/><circle cx="1255.1" cy="327.0" r="6.8"/><circle cx="1103.1" cy="365.8" r="6.8"/><circle cx="1037.4" cy="369.8" r="6.8"/><circle cx="1045.5" cy="376.0" r="6.8"/></g>
<line x1="831" y1="421.22964352720453" x2="1365" y2="298.6" stroke="#155252" stroke-width="2.8" clip-path="url(#cb)"/>
<polygon points="1508.4,417.3 1510.6,423.7 1517.4,423.8 1512.0,428.0 1514.0,434.5 1508.4,430.6 1502.8,434.5 1504.8,428.0 1499.4,423.8 1506.2,423.7" fill="#000000"/><polygon points="1519.0,420.9 1521.3,427.3 1528.1,427.4 1522.6,431.5 1524.6,438.1 1519.0,434.2 1513.5,438.1 1515.4,431.5 1510.0,427.4 1516.8,427.3" fill="#000000"/><polygon points="1514.5,410.1 1516.8,416.5 1523.6,416.6 1518.2,420.7 1520.1,427.3 1514.5,423.4 1509.0,427.3 1510.9,420.7 1505.5,416.6 1512.3,416.5" fill="#000000"/><polygon points="1521.4,411.6 1523.6,418.0 1530.4,418.2 1525.0,422.3 1527.0,428.8 1521.4,424.9 1515.8,428.8 1517.8,422.3 1512.3,418.2 1519.1,418.0" fill="#000000"/><polygon points="1521.1,401.5 1523.3,407.9 1530.1,408.1 1524.7,412.2 1526.6,418.7 1521.1,414.8 1515.5,418.7 1517.4,412.2 1512.0,408.1 1518.8,407.9" fill="#000000"/><polygon points="1530.3,402.7 1532.5,409.1 1539.3,409.3 1533.9,413.4 1535.9,419.9 1530.3,416.0 1524.7,419.9 1526.7,413.4 1521.3,409.3 1528.1,409.1" fill="#000000"/><polygon points="1525.3,392.9 1527.6,399.3 1534.4,399.5 1528.9,403.6 1530.9,410.1 1525.3,406.2 1519.7,410.1 1521.7,403.6 1516.3,399.5 1523.1,399.3" fill="#000000"/><polygon points="1534.8,396.6 1537.0,403.1 1543.8,403.2 1538.4,407.3 1540.3,413.8 1534.8,409.9 1529.2,413.8 1531.2,407.3 1525.7,403.2 1532.5,403.1" fill="#000000"/><polygon points="1529.7,385.4 1531.9,391.9 1538.7,392.0 1533.3,396.1 1535.3,402.6 1529.7,398.7 1524.1,402.6 1526.1,396.1 1520.6,392.0 1527.4,391.9" fill="#000000"/><polygon points="1539.6,390.2 1541.8,396.6 1548.6,396.8 1543.2,400.9 1545.2,407.4 1539.6,403.5 1534.0,407.4 1536.0,400.9 1530.6,396.8 1537.4,396.6" fill="#000000"/><polygon points="1538.8,377.9 1541.0,384.3 1547.8,384.4 1542.4,388.5 1544.4,395.0 1538.8,391.2 1533.2,395.0 1535.2,388.5 1529.8,384.4 1536.6,384.3" fill="#000000"/><polygon points="1547.5,380.4 1549.7,386.8 1556.5,386.9 1551.1,391.0 1553.1,397.6 1547.5,393.7 1541.9,397.6 1543.9,391.0 1538.5,386.9 1545.3,386.8" fill="#000000"/><polygon points="1544.2,370.2 1546.5,376.7 1553.3,376.8 1547.8,380.9 1549.8,387.4 1544.2,383.5 1538.6,387.4 1540.6,380.9 1535.2,376.8 1542.0,376.7" fill="#000000"/><polygon points="1550.0,375.0 1552.3,381.4 1559.1,381.5 1553.6,385.6 1555.6,392.1 1550.0,388.3 1544.4,392.1 1546.4,385.6 1541.0,381.5 1547.8,381.4" fill="#000000"/><polygon points="1548.6,363.0 1550.8,369.4 1557.6,369.6 1552.2,373.7 1554.2,380.2 1548.6,376.3 1543.0,380.2 1545.0,373.7 1539.6,369.6 1546.4,369.4" fill="#000000"/><polygon points="1559.6,367.3 1561.9,373.8 1568.7,373.9 1563.2,378.0 1565.2,384.5 1559.6,380.6 1554.0,384.5 1556.0,378.0 1550.6,373.9 1557.4,373.8" fill="#000000"/><polygon points="1555.1,357.9 1557.3,364.3 1564.1,364.4 1558.7,368.6 1560.7,375.1 1555.1,371.2 1549.5,375.1 1551.5,368.6 1546.1,364.4 1552.9,364.3" fill="#000000"/><polygon points="1563.7,359.3 1566.0,365.7 1572.8,365.9 1567.3,370.0 1569.3,376.5 1563.7,372.6 1558.1,376.5 1560.1,370.0 1554.7,365.9 1561.5,365.7" fill="#000000"/><polygon points="1561.5,350.9 1563.7,357.3 1570.5,357.5 1565.1,361.6 1567.0,368.1 1561.5,364.2 1555.9,368.1 1557.8,361.6 1552.4,357.5 1559.2,357.3" fill="#000000"/><polygon points="1570.7,353.2 1572.9,359.6 1579.7,359.7 1574.3,363.8 1576.3,370.3 1570.7,366.5 1565.1,370.3 1567.1,363.8 1561.6,359.7 1568.4,359.6" fill="#000000"/><polygon points="1570.9,342.0 1573.1,348.5 1579.9,348.6 1574.5,352.7 1576.5,359.2 1570.9,355.3 1565.3,359.2 1567.3,352.7 1561.9,348.6 1568.7,348.5" fill="#000000"/><polygon points="1575.7,343.7 1577.9,350.1 1584.7,350.3 1579.3,354.4 1581.3,360.9 1575.7,357.0 1570.1,360.9 1572.1,354.4 1566.7,350.3 1573.5,350.1" fill="#000000"/><polygon points="1574.1,334.0 1576.3,340.4 1583.1,340.5 1577.7,344.6 1579.7,351.2 1574.1,347.3 1568.5,351.2 1570.5,344.6 1565.1,340.5 1571.9,340.4" fill="#000000"/><polygon points="1581.3,337.5 1583.5,344.0 1590.3,344.1 1584.9,348.2 1586.9,354.7 1581.3,350.8 1575.7,354.7 1577.7,348.2 1572.2,344.1 1579.0,344.0" fill="#000000"/><polygon points="1579.7,328.4 1581.9,334.9 1588.7,335.0 1583.3,339.1 1585.3,345.6 1579.7,341.7 1574.1,345.6 1576.1,339.1 1570.7,335.0 1577.5,334.9" fill="#000000"/><polygon points="1587.2,329.2 1589.4,335.6 1596.2,335.7 1590.8,339.8 1592.8,346.4 1587.2,342.5 1581.6,346.4 1583.6,339.8 1578.2,335.7 1585.0,335.6" fill="#000000"/><polygon points="1588.2,319.8 1590.4,326.2 1597.2,326.4 1591.8,330.5 1593.8,337.0 1588.2,333.1 1582.6,337.0 1584.6,330.5 1579.2,326.4 1586.0,326.2" fill="#000000"/><polygon points="1591.9,321.5 1594.2,328.0 1601.0,328.1 1595.5,332.2 1597.5,338.7 1591.9,334.8 1586.3,338.7 1588.3,332.2 1582.9,328.1 1589.7,328.0" fill="#000000"/><polygon points="1592.8,310.4 1595.0,316.8 1601.8,316.9 1596.4,321.0 1598.4,327.6 1592.8,323.7 1587.2,327.6 1589.2,321.0 1583.7,316.9 1590.5,316.8" fill="#000000"/><polygon points="1599.1,311.8 1601.4,318.3 1608.2,318.4 1602.7,322.5 1604.7,329.0 1599.1,325.1 1593.5,329.0 1595.5,322.5 1590.1,318.4 1596.9,318.3" fill="#000000"/><polygon points="1597.9,304.5 1600.2,310.9 1607.0,311.1 1601.5,315.2 1603.5,321.7 1597.9,317.8 1592.3,321.7 1594.3,315.2 1588.9,311.1 1595.7,310.9" fill="#000000"/><polygon points="1599.6,295.9 1601.8,302.4 1608.6,302.5 1603.2,306.6 1605.2,313.1 1599.6,309.2 1594.0,313.1 1596.0,306.6 1590.6,302.5 1597.4,302.4" fill="#000000"/><polygon points="1605.6,286.9 1607.8,293.3 1614.6,293.5 1609.2,297.6 1611.2,304.1 1605.6,300.2 1600.0,304.1 1602.0,297.6 1596.6,293.5 1603.4,293.3" fill="#000000"/><polygon points="1609.1,277.0 1611.3,283.5 1618.1,283.6 1612.7,287.7 1614.6,294.2 1609.1,290.3 1603.5,294.2 1605.4,287.7 1600.0,283.6 1606.8,283.5" fill="#000000"/><polygon points="1614.7,271.6 1616.9,278.1 1623.7,278.2 1618.3,282.3 1620.3,288.8 1614.7,284.9 1609.1,288.8 1611.1,282.3 1605.6,278.2 1612.4,278.1" fill="#000000"/><polygon points="1619.9,263.0 1622.1,269.5 1628.9,269.6 1623.5,273.7 1625.4,280.2 1619.9,276.3 1614.3,280.2 1616.3,273.7 1610.8,269.6 1617.6,269.5" fill="#000000"/><polygon points="1628.0,255.7 1630.2,262.1 1637.0,262.2 1631.6,266.3 1633.6,272.8 1628.0,269.0 1622.4,272.8 1624.4,266.3 1619.0,262.2 1625.8,262.1" fill="#000000"/><polygon points="1630.9,245.9 1633.1,252.4 1639.9,252.5 1634.5,256.6 1636.5,263.1 1630.9,259.2 1625.3,263.1 1627.3,256.6 1621.8,252.5 1628.6,252.4" fill="#000000"/><polygon points="1636.9,239.3 1639.1,245.7 1645.9,245.9 1640.5,250.0 1642.5,256.5 1636.9,252.6 1631.3,256.5 1633.3,250.0 1627.8,245.9 1634.6,245.7" fill="#000000"/><polygon points="1641.0,231.7 1643.2,238.1 1650.0,238.2 1644.6,242.3 1646.5,248.9 1641.0,245.0 1635.4,248.9 1637.3,242.3 1631.9,238.2 1638.7,238.1" fill="#000000"/><polygon points="1649.5,224.4 1651.7,230.9 1658.5,231.0 1653.1,235.1 1655.0,241.6 1649.5,237.7 1643.9,241.6 1645.8,235.1 1640.4,231.0 1647.2,230.9" fill="#000000"/><polygon points="1652.2,217.1 1654.4,223.6 1661.2,223.7 1655.8,227.8 1657.7,234.3 1652.2,230.4 1646.6,234.3 1648.5,227.8 1643.1,223.7 1649.9,223.6" fill="#000000"/><polygon points="1657.4,207.3 1659.6,213.7 1666.5,213.8 1661.0,217.9 1663.0,224.5 1657.4,220.6 1651.8,224.5 1653.8,217.9 1648.4,213.8 1655.2,213.7" fill="#000000"/><polygon points="1664.4,200.9 1666.6,207.3 1673.4,207.4 1668.0,211.5 1670.0,218.0 1664.4,214.2 1658.8,218.0 1660.8,211.5 1655.3,207.4 1662.1,207.3" fill="#000000"/><polygon points="1667.4,192.3 1669.6,198.7 1676.4,198.8 1671.0,203.0 1672.9,209.5 1667.4,205.6 1661.8,209.5 1663.7,203.0 1658.3,198.8 1665.1,198.7" fill="#000000"/><polygon points="1672.2,181.9 1674.5,188.3 1681.3,188.4 1675.9,192.5 1677.8,199.0 1672.2,195.2 1666.7,199.0 1668.6,192.5 1663.2,188.4 1670.0,188.3" fill="#000000"/><polygon points="1677.1,173.9 1679.3,180.3 1686.1,180.5 1680.7,184.6 1682.7,191.1 1677.1,187.2 1671.5,191.1 1673.5,184.6 1668.1,180.5 1674.9,180.3" fill="#000000"/><polygon points="1681.9,166.3 1684.1,172.7 1690.9,172.8 1685.5,177.0 1687.5,183.5 1681.9,179.6 1676.3,183.5 1678.3,177.0 1672.9,172.8 1679.7,172.7" fill="#000000"/><polygon points="1690.8,161.9 1693.1,168.3 1699.9,168.5 1694.5,172.6 1696.4,179.1 1690.8,175.2 1685.3,179.1 1687.2,172.6 1681.8,168.5 1688.6,168.3" fill="#000000"/><polygon points="1695.4,152.3 1697.7,158.8 1704.5,158.9 1699.1,163.0 1701.0,169.5 1695.4,165.6 1689.9,169.5 1691.8,163.0 1686.4,158.9 1693.2,158.8" fill="#000000"/><polygon points="1703.4,145.9 1705.7,152.3 1712.5,152.4 1707.1,156.5 1709.0,163.0 1703.4,159.2 1697.9,163.0 1699.8,156.5 1694.4,152.4 1701.2,152.3" fill="#000000"/><polygon points="1704.0,135.9 1706.2,142.3 1713.0,142.5 1707.6,146.6 1709.6,153.1 1704.0,149.2 1698.4,153.1 1700.4,146.6 1694.9,142.5 1701.7,142.3" fill="#000000"/><polygon points="1707.9,128.7 1710.1,135.1 1716.9,135.3 1711.5,139.4 1713.4,145.9 1707.9,142.0 1702.3,145.9 1704.2,139.4 1698.8,135.3 1705.6,135.1" fill="#000000"/><polygon points="1710.8,118.6 1713.0,125.1 1719.8,125.2 1714.4,129.3 1716.3,135.8 1710.8,131.9 1705.2,135.8 1707.1,129.3 1701.7,125.2 1708.5,125.1" fill="#000000"/><polygon points="1729.7,108.9 1732.0,115.5 1738.9,115.6 1733.4,119.8 1735.4,126.4 1729.7,122.5 1724.0,126.4 1726.0,119.8 1720.5,115.6 1727.4,115.5" fill="#000000"/><polygon points="1722.9,120.5 1725.1,126.9 1731.9,127.1 1726.5,131.2 1728.5,137.7 1722.9,133.8 1717.3,137.7 1719.3,131.2 1713.9,127.1 1720.7,126.9" fill="#000000"/><polygon points="1647.4,208.2 1649.6,214.6 1656.4,214.8 1651.0,218.9 1653.0,225.4 1647.4,221.5 1641.8,225.4 1643.8,218.9 1638.4,214.8 1645.2,214.6" fill="#000000"/><polygon points="1639.3,221.0 1641.5,227.4 1648.3,227.6 1642.9,231.7 1644.9,238.2 1639.3,234.3 1633.7,238.2 1635.7,231.7 1630.3,227.6 1637.1,227.4" fill="#000000"/>
<g fill="#000000"><circle cx="1786.8" cy="220.9" r="6.8"/><circle cx="1761.0" cy="240.3" r="6.8"/><circle cx="1703.1" cy="277.3" r="6.8"/><circle cx="1678.9" cy="294.0" r="6.8"/><circle cx="1666.0" cy="302.4" r="6.8"/><circle cx="1659.6" cy="310.1" r="6.8"/><circle cx="1670.9" cy="318.5" r="6.8"/><circle cx="1609.7" cy="343.3" r="6.8"/><circle cx="2034.8" cy="56.1" r="6.8"/><circle cx="2014.4" cy="70.4" r="6.8"/><circle cx="2010.9" cy="96.5" r="6.8"/><circle cx="1935.9" cy="109.8" r="6.8"/><circle cx="1918.9" cy="133.8" r="6.8"/><circle cx="1887.4" cy="156.3" r="6.8"/><circle cx="1871.3" cy="168.8" r="6.8"/><circle cx="1824.7" cy="213.6" r="6.8"/><circle cx="1597.4" cy="349.7" r="6.8"/><circle cx="1584.6" cy="356.6" r="6.8"/><circle cx="1579.7" cy="366.4" r="6.8"/></g>
<line x1="1504" y1="421.5" x2="2033" y2="60.0" stroke="#000000" stroke-width="2.2" clip-path="url(#cc)"/>
<polygon points="1507.7,415.9 1510.0,422.3 1516.8,422.4 1511.3,426.5 1513.3,433.1 1507.7,429.2 1502.1,433.1 1504.1,426.5 1498.7,422.4 1505.5,422.3" fill="#ff0000"/><polygon points="1517.5,417.6 1519.7,424.0 1526.5,424.1 1521.1,428.2 1523.1,434.7 1517.5,430.9 1511.9,434.7 1513.9,428.2 1508.5,424.1 1515.3,424.0" fill="#ff0000"/><polygon points="1516.5,405.7 1518.8,412.2 1525.6,412.3 1520.1,416.4 1522.1,422.9 1516.5,419.0 1511.0,422.9 1512.9,416.4 1507.5,412.3 1514.3,412.2" fill="#ff0000"/><polygon points="1525.7,411.1 1528.0,417.5 1534.8,417.7 1529.3,421.8 1531.3,428.3 1525.7,424.4 1520.1,428.3 1522.1,421.8 1516.7,417.7 1523.5,417.5" fill="#ff0000"/><polygon points="1521.5,400.1 1523.8,406.5 1530.6,406.6 1525.2,410.8 1527.1,417.3 1521.5,413.4 1516.0,417.3 1517.9,410.8 1512.5,406.6 1519.3,406.5" fill="#ff0000"/><polygon points="1528.8,401.8 1531.0,408.2 1537.8,408.4 1532.4,412.5 1534.4,419.0 1528.8,415.1 1523.2,419.0 1525.2,412.5 1519.8,408.4 1526.6,408.2" fill="#ff0000"/><polygon points="1525.8,392.9 1528.0,399.3 1534.8,399.4 1529.4,403.5 1531.4,410.0 1525.8,406.2 1520.2,410.0 1522.2,403.5 1516.8,399.4 1523.6,399.3" fill="#ff0000"/><polygon points="1535.5,394.4 1537.7,400.8 1544.5,401.0 1539.1,405.1 1541.0,411.6 1535.5,407.7 1529.9,411.6 1531.8,405.1 1526.4,401.0 1533.2,400.8" fill="#ff0000"/><polygon points="1535.4,385.5 1537.6,391.9 1544.4,392.1 1539.0,396.2 1541.0,402.7 1535.4,398.8 1529.8,402.7 1531.8,396.2 1526.4,392.1 1533.2,391.9" fill="#ff0000"/><polygon points="1544.1,386.9 1546.3,393.4 1553.1,393.5 1547.7,397.6 1549.7,404.1 1544.1,400.2 1538.5,404.1 1540.5,397.6 1535.1,393.5 1541.9,393.4" fill="#ff0000"/><polygon points="1539.5,377.7 1541.7,384.1 1548.5,384.3 1543.1,388.4 1545.0,394.9 1539.5,391.0 1533.9,394.9 1535.8,388.4 1530.4,384.3 1537.2,384.1" fill="#ff0000"/><polygon points="1547.9,378.9 1550.1,385.3 1556.9,385.5 1551.5,389.6 1553.5,396.1 1547.9,392.2 1542.3,396.1 1544.3,389.6 1538.9,385.5 1545.7,385.3" fill="#ff0000"/><polygon points="1545.1,368.4 1547.4,374.8 1554.2,375.0 1548.8,379.1 1550.7,385.6 1545.1,381.7 1539.6,385.6 1541.5,379.1 1536.1,375.0 1542.9,374.8" fill="#ff0000"/><polygon points="1553.2,373.4 1555.5,379.8 1562.3,380.0 1556.8,384.1 1558.8,390.6 1553.2,386.7 1547.6,390.6 1549.6,384.1 1544.2,380.0 1551.0,379.8" fill="#ff0000"/><polygon points="1553.4,362.3 1555.6,368.8 1562.4,368.9 1557.0,373.0 1559.0,379.5 1553.4,375.6 1547.8,379.5 1549.8,373.0 1544.3,368.9 1551.1,368.8" fill="#ff0000"/><polygon points="1559.4,363.8 1561.6,370.3 1568.4,370.4 1563.0,374.5 1565.0,381.0 1559.4,377.1 1553.8,381.0 1555.8,374.5 1550.4,370.4 1557.2,370.3" fill="#ff0000"/><polygon points="1556.3,354.1 1558.5,360.5 1565.3,360.6 1559.9,364.8 1561.9,371.3 1556.3,367.4 1550.7,371.3 1552.7,364.8 1547.3,360.6 1554.1,360.5" fill="#ff0000"/><polygon points="1566.6,358.1 1568.8,364.6 1575.6,364.7 1570.2,368.8 1572.2,375.3 1566.6,371.4 1561.0,375.3 1563.0,368.8 1557.6,364.7 1564.4,364.6" fill="#ff0000"/><polygon points="1564.1,348.7 1566.3,355.1 1573.1,355.3 1567.7,359.4 1569.7,365.9 1564.1,362.0 1558.5,365.9 1560.5,359.4 1555.0,355.3 1561.8,355.1" fill="#ff0000"/><polygon points="1572.9,350.6 1575.2,357.0 1582.0,357.1 1576.5,361.3 1578.5,367.8 1572.9,363.9 1567.4,367.8 1569.3,361.3 1563.9,357.1 1570.7,357.0" fill="#ff0000"/><polygon points="1571.9,341.6 1574.1,348.0 1580.9,348.1 1575.5,352.3 1577.5,358.8 1571.9,354.9 1566.3,358.8 1568.3,352.3 1562.8,348.1 1569.6,348.0" fill="#ff0000"/><polygon points="1577.5,343.5 1579.8,349.9 1586.6,350.0 1581.1,354.1 1583.1,360.7 1577.5,356.8 1571.9,360.7 1573.9,354.1 1568.5,350.0 1575.3,349.9" fill="#ff0000"/><polygon points="1576.6,333.4 1578.8,339.8 1585.6,339.9 1580.2,344.1 1582.1,350.6 1576.6,346.7 1571.0,350.6 1572.9,344.1 1567.5,339.9 1574.3,339.8" fill="#ff0000"/><polygon points="1585.0,335.9 1587.2,342.4 1594.0,342.5 1588.6,346.6 1590.5,353.1 1585.0,349.2 1579.4,353.1 1581.3,346.6 1575.9,342.5 1582.7,342.4" fill="#ff0000"/><polygon points="1582.7,327.3 1585.0,333.8 1591.8,333.9 1586.3,338.0 1588.3,344.5 1582.7,340.6 1577.1,344.5 1579.1,338.0 1573.7,333.9 1580.5,333.8" fill="#ff0000"/><polygon points="1590.2,328.1 1592.4,334.5 1599.2,334.6 1593.8,338.7 1595.8,345.2 1590.2,341.4 1584.6,345.2 1586.6,338.7 1581.2,334.6 1588.0,334.5" fill="#ff0000"/><polygon points="1586.6,318.0 1588.9,324.4 1595.7,324.5 1590.3,328.6 1592.2,335.2 1586.6,331.3 1581.1,335.2 1583.0,328.6 1577.6,324.5 1584.4,324.4" fill="#ff0000"/><polygon points="1593.2,320.0 1595.4,326.5 1602.3,326.6 1596.8,330.7 1598.8,337.2 1593.2,333.3 1587.6,337.2 1589.6,330.7 1584.2,326.6 1591.0,326.5" fill="#ff0000"/><polygon points="1593.5,310.6 1595.7,317.0 1602.5,317.2 1597.1,321.3 1599.1,327.8 1593.5,323.9 1587.9,327.8 1589.9,321.3 1584.5,317.2 1591.3,317.0" fill="#ff0000"/><polygon points="1599.4,312.1 1601.6,318.5 1608.4,318.6 1603.0,322.8 1605.0,329.3 1599.4,325.4 1593.8,329.3 1595.8,322.8 1590.3,318.6 1597.1,318.5" fill="#ff0000"/><polygon points="1597.9,301.8 1600.2,308.2 1607.0,308.4 1601.5,312.5 1603.5,319.0 1597.9,315.1 1592.3,319.0 1594.3,312.5 1588.9,308.4 1595.7,308.2" fill="#ff0000"/><polygon points="1604.1,294.0 1606.3,300.4 1613.1,300.5 1607.7,304.6 1609.7,311.1 1604.1,307.3 1598.5,311.1 1600.5,304.6 1595.1,300.5 1601.9,300.4" fill="#ff0000"/><polygon points="1607.2,285.6 1609.4,292.0 1616.2,292.1 1610.8,296.3 1612.7,302.8 1607.2,298.9 1601.6,302.8 1603.5,296.3 1598.1,292.1 1604.9,292.0" fill="#ff0000"/><polygon points="1614.3,276.9 1616.5,283.4 1623.3,283.5 1617.9,287.6 1619.8,294.1 1614.3,290.2 1608.7,294.1 1610.6,287.6 1605.2,283.5 1612.0,283.4" fill="#ff0000"/><polygon points="1619.6,269.6 1621.8,276.0 1628.6,276.2 1623.2,280.3 1625.2,286.8 1619.6,282.9 1614.0,286.8 1616.0,280.3 1610.5,276.2 1617.3,276.0" fill="#ff0000"/><polygon points="1623.0,260.4 1625.2,266.8 1632.0,266.9 1626.6,271.0 1628.5,277.6 1623.0,273.7 1617.4,277.6 1619.3,271.0 1613.9,266.9 1620.7,266.8" fill="#ff0000"/><polygon points="1626.8,253.3 1629.0,259.8 1635.8,259.9 1630.4,264.0 1632.3,270.5 1626.8,266.6 1621.2,270.5 1623.1,264.0 1617.7,259.9 1624.5,259.8" fill="#ff0000"/><polygon points="1635.0,244.3 1637.3,250.8 1644.1,250.9 1638.7,255.0 1640.6,261.5 1635.0,257.6 1629.5,261.5 1631.4,255.0 1626.0,250.9 1632.8,250.8" fill="#ff0000"/><polygon points="1639.5,237.3 1641.7,243.7 1648.5,243.8 1643.1,247.9 1645.1,254.4 1639.5,250.6 1633.9,254.4 1635.9,247.9 1630.4,243.8 1637.2,243.7" fill="#ff0000"/><polygon points="1645.4,228.0 1647.6,234.5 1654.4,234.6 1649.0,238.7 1651.0,245.2 1645.4,241.3 1639.8,245.2 1641.8,238.7 1636.3,234.6 1643.1,234.5" fill="#ff0000"/><polygon points="1651.3,221.7 1653.6,228.1 1660.4,228.3 1654.9,232.4 1656.9,238.9 1651.3,235.0 1645.7,238.9 1647.7,232.4 1642.3,228.3 1649.1,228.1" fill="#ff0000"/><polygon points="1656.5,213.6 1658.8,220.0 1665.6,220.2 1660.2,224.3 1662.1,230.8 1656.5,226.9 1651.0,230.8 1652.9,224.3 1647.5,220.2 1654.3,220.0" fill="#ff0000"/><polygon points="1661.3,206.5 1663.5,213.0 1670.3,213.1 1664.9,217.2 1666.9,223.7 1661.3,219.8 1655.7,223.7 1657.7,217.2 1652.2,213.1 1659.0,213.0" fill="#ff0000"/><polygon points="1666.0,198.1 1668.2,204.5 1675.0,204.7 1669.6,208.8 1671.6,215.3 1666.0,211.4 1660.4,215.3 1662.4,208.8 1657.0,204.7 1663.8,204.5" fill="#ff0000"/><polygon points="1667.6,187.8 1669.8,194.3 1676.7,194.4 1671.2,198.5 1673.2,205.0 1667.6,201.1 1662.0,205.0 1664.0,198.5 1658.6,194.4 1665.4,194.3" fill="#ff0000"/><polygon points="1673.8,181.0 1676.0,187.4 1682.8,187.6 1677.4,191.7 1679.3,198.2 1673.8,194.3 1668.2,198.2 1670.1,191.7 1664.7,187.6 1671.5,187.4" fill="#ff0000"/><polygon points="1678.6,173.6 1680.9,180.0 1687.7,180.1 1682.3,184.2 1684.2,190.7 1678.6,186.9 1673.1,190.7 1675.0,184.2 1669.6,180.1 1676.4,180.0" fill="#ff0000"/><polygon points="1686.1,164.1 1688.3,170.5 1695.1,170.6 1689.7,174.8 1691.7,181.3 1686.1,177.4 1680.5,181.3 1682.5,174.8 1677.0,170.6 1683.8,170.5" fill="#ff0000"/><polygon points="1692.2,157.9 1694.4,164.3 1701.2,164.5 1695.8,168.6 1697.7,175.1 1692.2,171.2 1686.6,175.1 1688.5,168.6 1683.1,164.5 1689.9,164.3" fill="#ff0000"/><polygon points="1697.2,150.9 1699.4,157.3 1706.2,157.5 1700.8,161.6 1702.8,168.1 1697.2,164.2 1691.6,168.1 1693.6,161.6 1688.2,157.5 1695.0,157.3" fill="#ff0000"/><polygon points="1702.0,142.5 1704.2,149.0 1711.0,149.1 1705.6,153.2 1707.6,159.7 1702.0,155.8 1696.4,159.7 1698.4,153.2 1692.9,149.1 1699.8,149.0" fill="#ff0000"/><polygon points="1704.3,133.0 1706.6,139.5 1713.4,139.6 1708.0,143.7 1709.9,150.2 1704.3,146.3 1698.8,150.2 1700.7,143.7 1695.3,139.6 1702.1,139.5" fill="#ff0000"/><polygon points="1708.7,125.2 1710.9,131.6 1717.7,131.7 1712.3,135.8 1714.3,142.3 1708.7,138.5 1703.1,142.3 1705.1,135.8 1699.7,131.7 1706.5,131.6" fill="#ff0000"/><polygon points="1712.8,116.9 1715.0,123.4 1721.8,123.5 1716.4,127.6 1718.3,134.1 1712.8,130.2 1707.2,134.1 1709.1,127.6 1703.7,123.5 1710.5,123.4" fill="#ff0000"/><polygon points="1718.0,108.9 1720.3,115.5 1727.2,115.6 1721.7,119.8 1723.7,126.4 1718.0,122.5 1712.3,126.4 1714.3,119.8 1708.8,115.6 1715.7,115.5" fill="#ff0000"/><polygon points="1717.2,118.9 1719.5,125.5 1726.4,125.6 1720.9,129.8 1722.9,136.4 1717.2,132.5 1711.5,136.4 1713.5,129.8 1708.0,125.6 1714.9,125.5" fill="#ff0000"/>
<g fill="#ff0000"><circle cx="1793.2" cy="241.9" r="6.8"/><circle cx="1773.9" cy="251.5" r="6.8"/><circle cx="1751.4" cy="269.2" r="6.8"/><circle cx="1736.9" cy="277.3" r="6.8"/><circle cx="1711.1" cy="287.0" r="6.8"/><circle cx="1704.7" cy="296.6" r="6.8"/><circle cx="1685.3" cy="303.7" r="6.8"/><circle cx="1675.7" cy="320.8" r="6.8"/><circle cx="1641.9" cy="324.0" r="6.8"/><circle cx="1633.8" cy="346.5" r="6.8"/><circle cx="1619.3" cy="351.4" r="6.8"/><circle cx="2014.4" cy="57.2" r="6.8"/><circle cx="2032.3" cy="70.4" r="6.8"/><circle cx="1973.3" cy="96.5" r="6.8"/><circle cx="1939.3" cy="109.8" r="6.8"/><circle cx="1937.5" cy="121.6" r="6.8"/><circle cx="1933.9" cy="133.8" r="6.8"/><circle cx="1896.3" cy="145.6" r="6.8"/><circle cx="1880.2" cy="157.4" r="6.8"/><circle cx="1867.7" cy="168.8" r="6.8"/><circle cx="1844.4" cy="180.3" r="6.8"/><circle cx="1849.8" cy="192.1" r="6.8"/><circle cx="1835.5" cy="202.8" r="6.8"/><circle cx="1805.1" cy="229.0" r="6.8"/><circle cx="1626.0" cy="351.7" r="6.8"/><circle cx="1604.3" cy="369.4" r="6.8"/><circle cx="1582.7" cy="379.2" r="6.8"/><circle cx="1563.0" cy="395.0" r="6.8"/><circle cx="1565.4" cy="384.1" r="6.8"/></g>
<line x1="1504" y1="422.0" x2="2031" y2="62.5" stroke="#ff0000" stroke-width="2.2" clip-path="url(#cc)"/>
<polygon points="1509.0,413.9 1511.3,420.3 1518.1,420.5 1512.7,424.6 1514.6,431.1 1509.0,427.2 1503.5,431.1 1505.4,424.6 1500.0,420.5 1506.8,420.3" fill="#0000ff"/><polygon points="1517.9,415.3 1520.1,421.8 1526.9,421.9 1521.5,426.0 1523.5,432.5 1517.9,428.6 1512.3,432.5 1514.3,426.0 1508.9,421.9 1515.7,421.8" fill="#0000ff"/><polygon points="1514.8,404.6 1517.0,411.1 1523.8,411.2 1518.4,415.3 1520.4,421.8 1514.8,417.9 1509.2,421.8 1511.2,415.3 1505.8,411.2 1512.6,411.1" fill="#0000ff"/><polygon points="1523.7,408.8 1525.9,415.2 1532.7,415.3 1527.3,419.5 1529.3,426.0 1523.7,422.1 1518.1,426.0 1520.1,419.5 1514.7,415.3 1521.5,415.2" fill="#0000ff"/><polygon points="1521.1,396.0 1523.3,402.4 1530.1,402.5 1524.7,406.7 1526.6,413.2 1521.1,409.3 1515.5,413.2 1517.4,406.7 1512.0,402.5 1518.8,402.4" fill="#0000ff"/><polygon points="1531.3,398.9 1533.5,405.4 1540.3,405.5 1534.9,409.6 1536.9,416.1 1531.3,412.2 1525.7,416.1 1527.7,409.6 1522.3,405.5 1529.1,405.4" fill="#0000ff"/><polygon points="1527.8,389.5 1530.1,395.9 1536.9,396.1 1531.4,400.2 1533.4,406.7 1527.8,402.8 1522.2,406.7 1524.2,400.2 1518.8,396.1 1525.6,395.9" fill="#0000ff"/><polygon points="1537.0,394.1 1539.2,400.5 1546.0,400.6 1540.6,404.7 1542.6,411.2 1537.0,407.4 1531.4,411.2 1533.4,404.7 1527.9,400.6 1534.7,400.5" fill="#0000ff"/><polygon points="1535.0,382.4 1537.2,388.8 1544.1,388.9 1538.6,393.0 1540.6,399.5 1535.0,395.7 1529.4,399.5 1531.4,393.0 1526.0,388.9 1532.8,388.8" fill="#0000ff"/><polygon points="1543.7,385.6 1545.9,392.1 1552.7,392.2 1547.3,396.3 1549.3,402.8 1543.7,398.9 1538.1,402.8 1540.1,396.3 1534.7,392.2 1541.5,392.1" fill="#0000ff"/><polygon points="1539.2,374.0 1541.4,380.5 1548.2,380.6 1542.8,384.7 1544.8,391.2 1539.2,387.3 1533.6,391.2 1535.6,384.7 1530.2,380.6 1537.0,380.5" fill="#0000ff"/><polygon points="1548.5,377.8 1550.7,384.3 1557.5,384.4 1552.1,388.5 1554.1,395.0 1548.5,391.1 1542.9,395.0 1544.9,388.5 1539.5,384.4 1546.3,384.3" fill="#0000ff"/><polygon points="1547.5,369.0 1549.7,375.4 1556.5,375.6 1551.1,379.7 1553.0,386.2 1547.5,382.3 1541.9,386.2 1543.9,379.7 1538.4,375.6 1545.2,375.4" fill="#0000ff"/><polygon points="1554.2,369.6 1556.4,376.0 1563.2,376.2 1557.8,380.3 1559.8,386.8 1554.2,382.9 1548.6,386.8 1550.6,380.3 1545.1,376.2 1551.9,376.0" fill="#0000ff"/><polygon points="1553.1,358.6 1555.4,365.0 1562.2,365.2 1556.7,369.3 1558.7,375.8 1553.1,371.9 1547.5,375.8 1549.5,369.3 1544.1,365.2 1550.9,365.0" fill="#0000ff"/><polygon points="1557.8,362.6 1560.0,369.0 1566.8,369.2 1561.4,373.3 1563.4,379.8 1557.8,375.9 1552.2,379.8 1554.2,373.3 1548.7,369.2 1555.5,369.0" fill="#0000ff"/><polygon points="1558.5,352.0 1560.7,358.4 1567.5,358.5 1562.1,362.6 1564.1,369.1 1558.5,365.3 1552.9,369.1 1554.9,362.6 1549.5,358.5 1556.3,358.4" fill="#0000ff"/><polygon points="1566.0,356.4 1568.2,362.9 1575.0,363.0 1569.6,367.1 1571.6,373.6 1566.0,369.7 1560.4,373.6 1562.4,367.1 1557.0,363.0 1563.8,362.9" fill="#0000ff"/><polygon points="1564.1,345.9 1566.4,352.3 1573.2,352.5 1567.8,356.6 1569.7,363.1 1564.1,359.2 1558.6,363.1 1560.5,356.6 1555.1,352.5 1561.9,352.3" fill="#0000ff"/><polygon points="1570.7,347.6 1572.9,354.0 1579.7,354.2 1574.3,358.3 1576.2,364.8 1570.7,360.9 1565.1,364.8 1567.0,358.3 1561.6,354.2 1568.4,354.0" fill="#0000ff"/><polygon points="1572.9,338.6 1575.1,345.0 1581.9,345.2 1576.5,349.3 1578.5,355.8 1572.9,351.9 1567.3,355.8 1569.3,349.3 1563.9,345.2 1570.7,345.0" fill="#0000ff"/><polygon points="1579.6,342.2 1581.8,348.6 1588.6,348.8 1583.2,352.9 1585.2,359.4 1579.6,355.5 1574.0,359.4 1576.0,352.9 1570.6,348.8 1577.4,348.6" fill="#0000ff"/><polygon points="1577.5,330.9 1579.7,337.3 1586.5,337.4 1581.1,341.5 1583.1,348.1 1577.5,344.2 1571.9,348.1 1573.9,341.5 1568.5,337.4 1575.3,337.3" fill="#0000ff"/><polygon points="1585.4,333.5 1587.6,339.9 1594.4,340.0 1589.0,344.2 1591.0,350.7 1585.4,346.8 1579.8,350.7 1581.8,344.2 1576.4,340.0 1583.2,339.9" fill="#0000ff"/><polygon points="1582.5,323.4 1584.8,329.8 1591.6,330.0 1586.1,334.1 1588.1,340.6 1582.5,336.7 1576.9,340.6 1578.9,334.1 1573.5,330.0 1580.3,329.8" fill="#0000ff"/><polygon points="1590.7,325.7 1593.0,332.1 1599.8,332.3 1594.3,336.4 1596.3,342.9 1590.7,339.0 1585.2,342.9 1587.1,336.4 1581.7,332.3 1588.5,332.1" fill="#0000ff"/><polygon points="1586.9,315.7 1589.2,322.1 1596.0,322.3 1590.6,326.4 1592.5,332.9 1586.9,329.0 1581.4,332.9 1583.3,326.4 1577.9,322.3 1584.7,322.1" fill="#0000ff"/><polygon points="1591.8,317.8 1594.0,324.2 1600.8,324.4 1595.4,328.5 1597.4,335.0 1591.8,331.1 1586.2,335.0 1588.2,328.5 1582.8,324.4 1589.6,324.2" fill="#0000ff"/><polygon points="1592.5,307.0 1594.8,313.4 1601.6,313.5 1596.1,317.7 1598.1,324.2 1592.5,320.3 1586.9,324.2 1588.9,317.7 1583.5,313.5 1590.3,313.4" fill="#0000ff"/><polygon points="1598.9,310.1 1601.1,316.5 1607.9,316.7 1602.5,320.8 1604.5,327.3 1598.9,323.4 1593.3,327.3 1595.3,320.8 1589.9,316.7 1596.7,316.5" fill="#0000ff"/><polygon points="1595.5,299.4 1597.7,305.8 1604.5,305.9 1599.1,310.1 1601.1,316.6 1595.5,312.7 1589.9,316.6 1591.9,310.1 1586.5,305.9 1593.3,305.8" fill="#0000ff"/><polygon points="1601.0,292.2 1603.3,298.6 1610.1,298.7 1604.7,302.8 1606.6,309.4 1601.0,305.5 1595.5,309.4 1597.4,302.8 1592.0,298.7 1598.8,298.6" fill="#0000ff"/><polygon points="1607.7,281.7 1609.9,288.1 1616.7,288.3 1611.3,292.4 1613.2,298.9 1607.7,295.0 1602.1,298.9 1604.1,292.4 1598.6,288.3 1605.4,288.1" fill="#0000ff"/><polygon points="1610.6,273.3 1612.8,279.7 1619.6,279.9 1614.2,284.0 1616.2,290.5 1610.6,286.6 1605.0,290.5 1607.0,284.0 1601.5,279.9 1608.3,279.7" fill="#0000ff"/><polygon points="1618.4,265.6 1620.7,272.1 1627.5,272.2 1622.0,276.3 1624.0,282.8 1618.4,278.9 1612.8,282.8 1614.8,276.3 1609.4,272.2 1616.2,272.1" fill="#0000ff"/><polygon points="1622.1,258.2 1624.3,264.6 1631.2,264.8 1625.7,268.9 1627.7,275.4 1622.1,271.5 1616.5,275.4 1618.5,268.9 1613.1,264.8 1619.9,264.6" fill="#0000ff"/><polygon points="1627.5,250.7 1629.7,257.1 1636.5,257.2 1631.1,261.3 1633.1,267.9 1627.5,264.0 1621.9,267.9 1623.9,261.3 1618.4,257.2 1625.2,257.1" fill="#0000ff"/><polygon points="1633.1,241.3 1635.3,247.7 1642.1,247.8 1636.7,251.9 1638.7,258.4 1633.1,254.6 1627.5,258.4 1629.5,251.9 1624.0,247.8 1630.8,247.7" fill="#0000ff"/><polygon points="1638.7,234.1 1640.9,240.5 1647.7,240.7 1642.3,244.8 1644.3,251.3 1638.7,247.4 1633.1,251.3 1635.1,244.8 1629.7,240.7 1636.5,240.5" fill="#0000ff"/><polygon points="1643.5,226.6 1645.8,233.1 1652.6,233.2 1647.1,237.3 1649.1,243.8 1643.5,239.9 1637.9,243.8 1639.9,237.3 1634.5,233.2 1641.3,233.1" fill="#0000ff"/><polygon points="1648.3,219.7 1650.6,226.1 1657.4,226.2 1651.9,230.3 1653.9,236.9 1648.3,233.0 1642.7,236.9 1644.7,230.3 1639.3,226.2 1646.1,226.1" fill="#0000ff"/><polygon points="1654.5,211.4 1656.7,217.8 1663.5,218.0 1658.1,222.1 1660.0,228.6 1654.5,224.7 1648.9,228.6 1650.9,222.1 1645.4,218.0 1652.2,217.8" fill="#0000ff"/><polygon points="1660.5,203.9 1662.7,210.4 1669.5,210.5 1664.1,214.6 1666.1,221.1 1660.5,217.2 1654.9,221.1 1656.9,214.6 1651.4,210.5 1658.2,210.4" fill="#0000ff"/><polygon points="1662.1,194.6 1664.4,201.0 1671.2,201.1 1665.7,205.2 1667.7,211.8 1662.1,207.9 1656.5,211.8 1658.5,205.2 1653.1,201.1 1659.9,201.0" fill="#0000ff"/><polygon points="1667.8,188.0 1670.1,194.4 1676.9,194.5 1671.5,198.6 1673.4,205.1 1667.8,201.3 1662.3,205.1 1664.2,198.6 1658.8,194.5 1665.6,194.4" fill="#0000ff"/><polygon points="1674.5,178.8 1676.7,185.2 1683.5,185.4 1678.1,189.5 1680.1,196.0 1674.5,192.1 1668.9,196.0 1670.9,189.5 1665.5,185.4 1672.3,185.2" fill="#0000ff"/><polygon points="1676.8,171.9 1679.0,178.4 1685.8,178.5 1680.4,182.6 1682.4,189.1 1676.8,185.2 1671.2,189.1 1673.2,182.6 1667.7,178.5 1674.5,178.4" fill="#0000ff"/><polygon points="1684.4,164.0 1686.7,170.4 1693.5,170.6 1688.1,174.7 1690.0,181.2 1684.4,177.3 1678.9,181.2 1680.8,174.7 1675.4,170.6 1682.2,170.4" fill="#0000ff"/><polygon points="1692.3,157.5 1694.5,163.9 1701.3,164.0 1695.9,168.1 1697.9,174.6 1692.3,170.8 1686.7,174.6 1688.7,168.1 1683.2,164.0 1690.0,163.9" fill="#0000ff"/><polygon points="1698.0,151.5 1700.2,157.9 1707.0,158.1 1701.6,162.2 1703.6,168.7 1698.0,164.8 1692.4,168.7 1694.4,162.2 1689.0,158.1 1695.8,157.9" fill="#0000ff"/><polygon points="1700.5,140.9 1702.7,147.3 1709.5,147.5 1704.1,151.6 1706.1,158.1 1700.5,154.2 1694.9,158.1 1696.9,151.6 1691.4,147.5 1698.2,147.3" fill="#0000ff"/><polygon points="1705.2,131.3 1707.4,137.7 1714.2,137.8 1708.8,141.9 1710.8,148.4 1705.2,144.6 1699.6,148.4 1701.6,141.9 1696.2,137.8 1703.0,137.7" fill="#0000ff"/><polygon points="1706.4,124.3 1708.6,130.7 1715.4,130.9 1710.0,135.0 1712.0,141.5 1706.4,137.6 1700.8,141.5 1702.8,135.0 1697.4,130.9 1704.2,130.7" fill="#0000ff"/><polygon points="1713.5,108.9 1715.8,115.5 1722.7,115.6 1717.2,119.8 1719.2,126.4 1713.5,122.5 1707.8,126.4 1709.8,119.8 1704.3,115.6 1711.2,115.5" fill="#0000ff"/><polygon points="1712.5,119.8 1714.8,126.4 1721.7,126.5 1716.2,130.7 1718.2,137.3 1712.5,133.4 1706.8,137.3 1708.8,130.7 1703.3,126.5 1710.2,126.4" fill="#0000ff"/>
<g fill="#0000ff"><circle cx="1786.2" cy="221.9" r="6.8"/><circle cx="1770.7" cy="253.1" r="6.8"/><circle cx="1764.9" cy="261.2" r="6.8"/><circle cx="1749.8" cy="269.2" r="6.8"/><circle cx="1744.3" cy="278.9" r="6.8"/><circle cx="1735.3" cy="287.0" r="6.8"/><circle cx="1714.3" cy="303.1" r="6.8"/><circle cx="1693.4" cy="296.6" r="6.8"/><circle cx="1684.4" cy="315.9" r="6.8"/><circle cx="1684.4" cy="325.6" r="6.8"/><circle cx="1649.9" cy="338.5" r="6.8"/><circle cx="1641.9" cy="351.4" r="6.8"/><circle cx="1619.3" cy="357.8" r="6.8"/><circle cx="1611.3" cy="369.1" r="6.8"/><circle cx="2025.2" cy="57.2" r="6.8"/><circle cx="1983.3" cy="70.4" r="6.8"/><circle cx="1994.7" cy="83.7" r="6.8"/><circle cx="1971.5" cy="96.5" r="6.8"/><circle cx="1953.6" cy="109.8" r="6.8"/><circle cx="1967.9" cy="121.6" r="6.8"/><circle cx="1910.6" cy="133.8" r="6.8"/><circle cx="1898.1" cy="145.6" r="6.8"/><circle cx="1895.2" cy="156.3" r="6.8"/><circle cx="1865.9" cy="168.8" r="6.8"/><circle cx="1851.6" cy="180.3" r="6.8"/><circle cx="1860.5" cy="192.1" r="6.8"/><circle cx="1823.0" cy="214.7" r="6.8"/><circle cx="1808.6" cy="233.3" r="6.8"/><circle cx="1601.4" cy="379.2" r="6.8"/><circle cx="1592.5" cy="375.3" r="6.8"/><circle cx="1577.8" cy="385.1" r="6.8"/><circle cx="1575.8" cy="396.9" r="6.8"/><circle cx="1564.0" cy="389.1" r="6.8"/><circle cx="1547.2" cy="402.8" r="6.8"/><circle cx="1537.4" cy="416.6" r="6.8"/><circle cx="1526.6" cy="423.5" r="6.8"/><circle cx="1516.7" cy="428.4" r="6.8"/><circle cx="1510.7" cy="431.2" r="6.8"/><circle cx="1545.0" cy="410.0" r="6.8"/><circle cx="1505.0" cy="428.0" r="6.8"/><circle cx="1557.0" cy="399.0" r="6.8"/></g>
<line x1="1504" y1="421.0" x2="2031" y2="63.0" stroke="#0000ff" stroke-width="2.2" clip-path="url(#cc)"/>
<polygon points="1503.3,419.5 1505.5,425.9 1512.3,426.1 1506.9,430.2 1508.8,436.7 1503.3,432.8 1497.7,436.7 1499.7,430.2 1494.2,426.1 1501.0,425.9" fill="#77ac30"/><polygon points="1515.8,421.3 1518.0,427.7 1524.8,427.9 1519.4,432.0 1521.4,438.5 1515.8,434.6 1510.2,438.5 1512.2,432.0 1506.7,427.9 1513.5,427.7" fill="#77ac30"/><polygon points="1509.6,411.6 1511.9,418.0 1518.7,418.1 1513.2,422.3 1515.2,428.8 1509.6,424.9 1504.0,428.8 1506.0,422.3 1500.6,418.1 1507.4,418.0" fill="#77ac30"/><polygon points="1521.9,412.6 1524.1,419.0 1530.9,419.2 1525.5,423.3 1527.4,429.8 1521.9,425.9 1516.3,429.8 1518.3,423.3 1512.8,419.2 1519.6,419.0" fill="#77ac30"/><polygon points="1515.9,403.1 1518.1,409.6 1524.9,409.7 1519.5,413.8 1521.5,420.3 1515.9,416.4 1510.3,420.3 1512.3,413.8 1506.8,409.7 1513.6,409.6" fill="#77ac30"/><polygon points="1525.4,405.3 1527.7,411.7 1534.5,411.9 1529.0,416.0 1531.0,422.5 1525.4,418.6 1519.8,422.5 1521.8,416.0 1516.4,411.9 1523.2,411.7" fill="#77ac30"/><polygon points="1520.5,395.8 1522.7,402.2 1529.5,402.3 1524.1,406.5 1526.0,413.0 1520.5,409.1 1514.9,413.0 1516.8,406.5 1511.4,402.3 1518.2,402.2" fill="#77ac30"/><polygon points="1532.3,397.0 1534.5,403.4 1541.3,403.6 1535.9,407.7 1537.9,414.2 1532.3,410.3 1526.7,414.2 1528.7,407.7 1523.3,403.6 1530.1,403.4" fill="#77ac30"/><polygon points="1526.7,389.1 1529.0,395.5 1535.8,395.7 1530.4,399.8 1532.3,406.3 1526.7,402.4 1521.2,406.3 1523.1,399.8 1517.7,395.7 1524.5,395.5" fill="#77ac30"/><polygon points="1537.9,391.3 1540.1,397.7 1546.9,397.9 1541.5,402.0 1543.5,408.5 1537.9,404.6 1532.3,408.5 1534.3,402.0 1528.9,397.9 1535.7,397.7" fill="#77ac30"/><polygon points="1531.9,381.4 1534.1,387.8 1540.9,388.0 1535.5,392.1 1537.5,398.6 1531.9,394.7 1526.3,398.6 1528.3,392.1 1522.9,388.0 1529.7,387.8" fill="#77ac30"/><polygon points="1544.3,384.8 1546.6,391.3 1553.4,391.4 1548.0,395.5 1549.9,402.0 1544.3,398.1 1538.8,402.0 1540.7,395.5 1535.3,391.4 1542.1,391.3" fill="#77ac30"/><polygon points="1540.4,371.9 1542.6,378.3 1549.4,378.5 1544.0,382.6 1546.0,389.1 1540.4,385.2 1534.8,389.1 1536.8,382.6 1531.4,378.5 1538.2,378.3" fill="#77ac30"/><polygon points="1549.3,374.9 1551.6,381.3 1558.4,381.5 1552.9,385.6 1554.9,392.1 1549.3,388.2 1543.7,392.1 1545.7,385.6 1540.3,381.5 1547.1,381.3" fill="#77ac30"/><polygon points="1546.0,367.1 1548.2,373.5 1555.0,373.6 1549.6,377.8 1551.6,384.3 1546.0,380.4 1540.4,384.3 1542.4,377.8 1537.0,373.6 1543.8,373.5" fill="#77ac30"/><polygon points="1554.3,367.0 1556.5,373.5 1563.3,373.6 1557.9,377.7 1559.9,384.2 1554.3,380.3 1548.7,384.2 1550.7,377.7 1545.3,373.6 1552.1,373.5" fill="#77ac30"/><polygon points="1550.4,359.5 1552.7,365.9 1559.5,366.0 1554.0,370.2 1556.0,376.7 1550.4,372.8 1544.8,376.7 1546.8,370.2 1541.4,366.0 1548.2,365.9" fill="#77ac30"/><polygon points="1557.6,360.9 1559.8,367.3 1566.6,367.4 1561.2,371.5 1563.1,378.1 1557.6,374.2 1552.0,378.1 1553.9,371.5 1548.5,367.4 1555.3,367.3" fill="#77ac30"/><polygon points="1557.4,350.3 1559.6,356.7 1566.4,356.8 1561.0,361.0 1563.0,367.5 1557.4,363.6 1551.8,367.5 1553.8,361.0 1548.4,356.8 1555.2,356.7" fill="#77ac30"/><polygon points="1565.6,352.1 1567.8,358.6 1574.6,358.7 1569.2,362.8 1571.2,369.3 1565.6,365.4 1560.0,369.3 1562.0,362.8 1556.6,358.7 1563.4,358.6" fill="#77ac30"/><polygon points="1562.7,344.0 1564.9,350.4 1571.7,350.6 1566.3,354.7 1568.3,361.2 1562.7,357.3 1557.1,361.2 1559.1,354.7 1553.6,350.6 1560.4,350.4" fill="#77ac30"/><polygon points="1569.6,345.1 1571.8,351.6 1578.6,351.7 1573.2,355.8 1575.1,362.3 1569.6,358.4 1564.0,362.3 1565.9,355.8 1560.5,351.7 1567.3,351.6" fill="#77ac30"/><polygon points="1570.7,337.8 1572.9,344.3 1579.7,344.4 1574.3,348.5 1576.3,355.0 1570.7,351.1 1565.1,355.0 1567.1,348.5 1561.6,344.4 1568.4,344.3" fill="#77ac30"/><polygon points="1578.5,338.0 1580.8,344.4 1587.6,344.6 1582.2,348.7 1584.1,355.2 1578.5,351.3 1573.0,355.2 1574.9,348.7 1569.5,344.6 1576.3,344.4" fill="#77ac30"/><polygon points="1576.1,329.2 1578.3,335.6 1585.1,335.8 1579.7,339.9 1581.7,346.4 1576.1,342.5 1570.5,346.4 1572.5,339.9 1567.1,335.8 1573.9,335.6" fill="#77ac30"/><polygon points="1583.0,331.6 1585.3,338.0 1592.1,338.2 1586.6,342.3 1588.6,348.8 1583.0,344.9 1577.4,348.8 1579.4,342.3 1574.0,338.2 1580.8,338.0" fill="#77ac30"/><polygon points="1583.5,321.5 1585.7,328.0 1592.5,328.1 1587.1,332.2 1589.0,338.7 1583.5,334.8 1577.9,338.7 1579.8,332.2 1574.4,328.1 1581.2,328.0" fill="#77ac30"/><polygon points="1585.8,324.3 1588.0,330.7 1594.8,330.8 1589.4,334.9 1591.3,341.4 1585.8,337.6 1580.2,341.4 1582.2,334.9 1576.7,330.8 1583.5,330.7" fill="#77ac30"/><polygon points="1585.1,314.1 1587.4,320.6 1594.2,320.7 1588.8,324.8 1590.7,331.3 1585.1,327.4 1579.6,331.3 1581.5,324.8 1576.1,320.7 1582.9,320.6" fill="#77ac30"/><polygon points="1591.9,316.6 1594.2,323.0 1601.0,323.1 1595.6,327.3 1597.5,333.8 1591.9,329.9 1586.4,333.8 1588.3,327.3 1582.9,323.1 1589.7,323.0" fill="#77ac30"/><polygon points="1591.6,305.9 1593.8,312.3 1600.6,312.5 1595.2,316.6 1597.2,323.1 1591.6,319.2 1586.0,323.1 1588.0,316.6 1582.6,312.5 1589.4,312.3" fill="#77ac30"/><polygon points="1594.9,297.3 1597.1,303.8 1603.9,303.9 1598.5,308.0 1600.5,314.5 1594.9,310.6 1589.3,314.5 1591.3,308.0 1585.9,303.9 1592.7,303.8" fill="#77ac30"/><polygon points="1599.3,289.5 1601.5,295.9 1608.3,296.1 1602.9,300.2 1604.8,306.7 1599.3,302.8 1593.7,306.7 1595.6,300.2 1590.2,296.1 1597.0,295.9" fill="#77ac30"/><polygon points="1604.9,279.3 1607.1,285.8 1613.9,285.9 1608.5,290.0 1610.5,296.5 1604.9,292.6 1599.3,296.5 1601.3,290.0 1595.9,285.9 1602.7,285.8" fill="#77ac30"/><polygon points="1608.7,271.9 1610.9,278.3 1617.7,278.5 1612.3,282.6 1614.2,289.1 1608.7,285.2 1603.1,289.1 1605.0,282.6 1599.6,278.5 1606.4,278.3" fill="#77ac30"/><polygon points="1615.7,263.3 1618.0,269.7 1624.8,269.9 1619.3,274.0 1621.3,280.5 1615.7,276.6 1610.1,280.5 1612.1,274.0 1606.7,269.9 1613.5,269.7" fill="#77ac30"/><polygon points="1620.8,256.8 1623.1,263.2 1629.9,263.3 1624.5,267.5 1626.4,274.0 1620.8,270.1 1615.3,274.0 1617.2,267.5 1611.8,263.3 1618.6,263.2" fill="#77ac30"/><polygon points="1623.5,248.9 1625.8,255.3 1632.6,255.4 1627.1,259.5 1629.1,266.1 1623.5,262.2 1617.9,266.1 1619.9,259.5 1614.5,255.4 1621.3,255.3" fill="#77ac30"/><polygon points="1628.8,239.3 1631.0,245.7 1637.8,245.9 1632.4,250.0 1634.3,256.5 1628.8,252.6 1623.2,256.5 1625.1,250.0 1619.7,245.9 1626.5,245.7" fill="#77ac30"/><polygon points="1636.5,232.0 1638.7,238.5 1645.5,238.6 1640.1,242.7 1642.0,249.2 1636.5,245.3 1630.9,249.2 1632.8,242.7 1627.4,238.6 1634.2,238.5" fill="#77ac30"/><polygon points="1643.3,225.2 1645.6,231.6 1652.4,231.8 1647.0,235.9 1648.9,242.4 1643.3,238.5 1637.8,242.4 1639.7,235.9 1634.3,231.8 1641.1,231.6" fill="#77ac30"/><polygon points="1646.9,218.6 1649.1,225.0 1655.9,225.1 1650.5,229.2 1652.5,235.8 1646.9,231.9 1641.3,235.8 1643.3,229.2 1637.8,225.1 1644.6,225.0" fill="#77ac30"/><polygon points="1650.9,210.5 1653.2,216.9 1660.0,217.0 1654.6,221.1 1656.5,227.6 1650.9,223.8 1645.4,227.6 1647.3,221.1 1641.9,217.0 1648.7,216.9" fill="#77ac30"/><polygon points="1655.9,200.6 1658.2,207.0 1665.0,207.2 1659.5,211.3 1661.5,217.8 1655.9,213.9 1650.3,217.8 1652.3,211.3 1646.9,207.2 1653.7,207.0" fill="#77ac30"/><polygon points="1663.8,193.7 1666.0,200.1 1672.8,200.3 1667.4,204.4 1669.4,210.9 1663.8,207.0 1658.2,210.9 1660.2,204.4 1654.8,200.3 1661.6,200.1" fill="#77ac30"/><polygon points="1664.9,183.4 1667.2,189.8 1674.0,190.0 1668.5,194.1 1670.5,200.6 1664.9,196.7 1659.3,200.6 1661.3,194.1 1655.9,190.0 1662.7,189.8" fill="#77ac30"/><polygon points="1673.3,177.3 1675.5,183.7 1682.3,183.8 1676.9,187.9 1678.9,194.4 1673.3,190.6 1667.7,194.4 1669.7,187.9 1664.2,183.8 1671.0,183.7" fill="#77ac30"/><polygon points="1678.4,168.1 1680.7,174.6 1687.5,174.7 1682.1,178.8 1684.0,185.3 1678.4,181.4 1672.9,185.3 1674.8,178.8 1669.4,174.7 1676.2,174.6" fill="#77ac30"/><polygon points="1683.9,161.7 1686.1,168.1 1692.9,168.2 1687.5,172.3 1689.5,178.8 1683.9,175.0 1678.3,178.8 1680.3,172.3 1674.9,168.2 1681.7,168.1" fill="#77ac30"/><polygon points="1689.1,154.9 1691.3,161.3 1698.1,161.4 1692.7,165.6 1694.6,172.1 1689.1,168.2 1683.5,172.1 1685.4,165.6 1680.0,161.4 1686.8,161.3" fill="#77ac30"/><polygon points="1696.2,147.6 1698.5,154.0 1705.3,154.1 1699.9,158.2 1701.8,164.7 1696.2,160.9 1690.7,164.7 1692.6,158.2 1687.2,154.1 1694.0,154.0" fill="#77ac30"/><polygon points="1698.2,137.9 1700.4,144.3 1707.2,144.4 1701.8,148.5 1703.8,155.1 1698.2,151.2 1692.6,155.1 1694.6,148.5 1689.2,144.4 1696.0,144.3" fill="#77ac30"/><polygon points="1702.9,130.4 1705.2,136.8 1712.0,136.9 1706.6,141.1 1708.5,147.6 1702.9,143.7 1697.4,147.6 1699.3,141.1 1693.9,136.9 1700.7,136.8" fill="#77ac30"/><polygon points="1706.3,120.9 1708.5,127.3 1715.3,127.5 1709.9,131.6 1711.9,138.1 1706.3,134.2 1700.7,138.1 1702.7,131.6 1697.3,127.5 1704.1,127.3" fill="#77ac30"/><polygon points="1710.0,108.9 1712.3,115.5 1719.2,115.6 1713.7,119.8 1715.7,126.4 1710.0,122.5 1704.3,126.4 1706.3,119.8 1700.8,115.6 1707.7,115.5" fill="#77ac30"/><polygon points="1709.0,119.6 1711.3,126.2 1718.2,126.3 1712.7,130.5 1714.7,137.1 1709.0,133.2 1703.3,137.1 1705.3,130.5 1699.8,126.3 1706.7,126.2" fill="#77ac30"/>
<g fill="#77ac30"><circle cx="1798.0" cy="212.9" r="6.8"/><circle cx="1782.0" cy="232.2" r="6.8"/><circle cx="1762.6" cy="241.9" r="6.8"/><circle cx="1744.9" cy="251.5" r="6.8"/><circle cx="1739.1" cy="261.2" r="6.8"/><circle cx="1722.4" cy="270.9" r="6.8"/><circle cx="1724.0" cy="278.9" r="6.8"/><circle cx="1702.4" cy="287.6" r="6.8"/><circle cx="1696.6" cy="296.6" r="6.8"/><circle cx="1677.3" cy="303.7" r="6.8"/><circle cx="1670.9" cy="311.1" r="6.8"/><circle cx="1653.1" cy="325.6" r="6.8"/><circle cx="1629.6" cy="317.6" r="6.8"/><circle cx="1630.6" cy="332.0" r="6.8"/><circle cx="1637.0" cy="340.1" r="6.8"/><circle cx="1617.7" cy="346.5" r="6.8"/><circle cx="1604.8" cy="351.4" r="6.8"/><circle cx="2034.1" cy="56.1" r="6.8"/><circle cx="2026.2" cy="70.4" r="6.8"/><circle cx="2003.7" cy="83.7" r="6.8"/><circle cx="1996.5" cy="96.5" r="6.8"/><circle cx="1975.1" cy="108.7" r="6.8"/><circle cx="1946.4" cy="121.6" r="6.8"/><circle cx="1944.6" cy="133.8" r="6.8"/><circle cx="1911.7" cy="145.6" r="6.8"/><circle cx="1903.5" cy="157.4" r="6.8"/><circle cx="1884.5" cy="168.8" r="6.8"/><circle cx="1868.8" cy="180.3" r="6.8"/><circle cx="1836.5" cy="191.0" r="6.8"/><circle cx="1830.1" cy="202.8" r="6.8"/><circle cx="1814.0" cy="222.5" r="6.8"/><circle cx="1590.6" cy="358.5" r="6.8"/><circle cx="1579.7" cy="374.3" r="6.8"/><circle cx="1569.9" cy="370.4" r="6.8"/><circle cx="1589.5" cy="364.4" r="6.8"/><circle cx="1508.0" cy="421.0" r="6.8"/><circle cx="1513.0" cy="415.0" r="6.8"/><circle cx="1519.0" cy="409.0" r="6.8"/><circle cx="1525.0" cy="404.0" r="6.8"/><circle cx="1531.0" cy="399.0" r="6.8"/><circle cx="1537.0" cy="394.0" r="6.8"/><circle cx="1543.0" cy="389.0" r="6.8"/><circle cx="1549.0" cy="384.0" r="6.8"/><circle cx="1555.0" cy="379.0" r="6.8"/><circle cx="1561.0" cy="374.0" r="6.8"/><circle cx="1511.0" cy="427.0" r="6.8"/><circle cx="1520.0" cy="419.0" r="6.8"/><circle cx="1529.0" cy="412.0" r="6.8"/><circle cx="1538.0" cy="405.0" r="6.8"/><circle cx="1546.0" cy="398.0" r="6.8"/></g>
<line x1="1504" y1="419.2" x2="2027" y2="68.6" stroke="#77ac30" stroke-width="3.4" clip-path="url(#cc)"/></svg>
</body></html>
